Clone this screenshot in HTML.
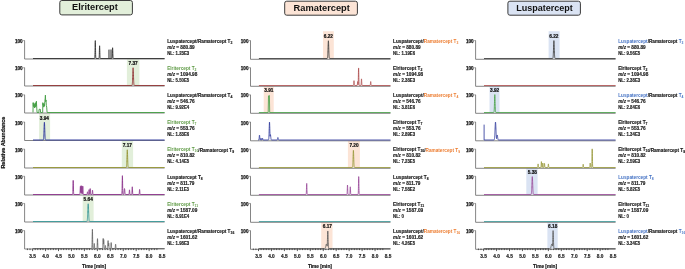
<!DOCTYPE html>
<html><head><meta charset="utf-8"><title>Chromatograms</title>
<style>
html,body{margin:0;padding:0;background:#fff;width:685px;height:269px;overflow:hidden;}
svg text{font-family:"Liberation Sans", sans-serif;} svg{will-change:transform;} .lb{stroke-width:0.15px;}
</style></head><body>
<svg width="685" height="269" viewBox="0 0 685 269" style="position:absolute;left:0;top:0"><rect x="59.8" y="0.5" width="72.6" height="14.4" rx="2" ry="2" fill="#e2efda" stroke="#3a3a3a" stroke-width="1"/><text x="72.1" y="9.8" font-size="8.6" font-weight="bold" fill="#111" textLength="45.7" lengthAdjust="spacingAndGlyphs">Elritercept</text><rect x="284.7" y="1.2" width="72.7" height="14.0" rx="2" ry="2" fill="#fce4d6" stroke="#3a3a3a" stroke-width="1"/><text x="293.6" y="10.6" font-size="8.6" font-weight="bold" fill="#111" textLength="56.3" lengthAdjust="spacingAndGlyphs">Ramatercept</text><rect x="507.9" y="1.2" width="72.5" height="14.0" rx="2" ry="2" fill="#dae3f3" stroke="#3a3a3a" stroke-width="1"/><text x="516.2" y="10.6" font-size="8.6" font-weight="bold" fill="#111" textLength="56.6" lengthAdjust="spacingAndGlyphs">Luspatercept</text><rect x="126.90" y="59.30" width="12.50" height="26.20" fill="#e2efda"/><text x="133.10" y="65.20" font-size="5" font-weight="bold" fill="#111" text-anchor="middle" textLength="9.2" lengthAdjust="spacingAndGlyphs" stroke="#111" stroke-width="0.2">7.37</text><rect x="39.10" y="113.30" width="11.00" height="26.70" fill="#e2efda"/><text x="44.40" y="119.50" font-size="5" font-weight="bold" fill="#111" text-anchor="middle" textLength="9.2" lengthAdjust="spacingAndGlyphs" stroke="#111" stroke-width="0.2">3.94</text><rect x="121.80" y="140.80" width="11.30" height="26.70" fill="#e2efda"/><text x="127.30" y="146.65" font-size="5" font-weight="bold" fill="#111" text-anchor="middle" textLength="9.2" lengthAdjust="spacingAndGlyphs" stroke="#111" stroke-width="0.2">7.17</text><rect x="82.70" y="195.30" width="10.90" height="26.20" fill="#e2efda"/><text x="88.20" y="200.95" font-size="5" font-weight="bold" fill="#111" text-anchor="middle" textLength="9.2" lengthAdjust="spacingAndGlyphs" stroke="#111" stroke-width="0.2">5.64</text><rect x="323.00" y="31.20" width="10.80" height="27.30" fill="#fce4d6"/><text x="328.40" y="38.05" font-size="5" font-weight="bold" fill="#111" text-anchor="middle" textLength="9.2" lengthAdjust="spacingAndGlyphs" stroke="#111" stroke-width="0.2">6.22</text><rect x="263.70" y="86.30" width="10.00" height="26.20" fill="#fce4d6"/><text x="268.80" y="92.35" font-size="5" font-weight="bold" fill="#111" text-anchor="middle" textLength="9.2" lengthAdjust="spacingAndGlyphs" stroke="#111" stroke-width="0.2">3.91</text><rect x="347.90" y="140.80" width="12.00" height="26.70" fill="#fce4d6"/><text x="354.00" y="146.65" font-size="5" font-weight="bold" fill="#111" text-anchor="middle" textLength="9.2" lengthAdjust="spacingAndGlyphs" stroke="#111" stroke-width="0.2">7.20</text><rect x="321.20" y="222.30" width="11.30" height="26.20" fill="#fce4d6"/><text x="327.40" y="228.10" font-size="5" font-weight="bold" fill="#111" text-anchor="middle" textLength="9.2" lengthAdjust="spacingAndGlyphs" stroke="#111" stroke-width="0.2">6.17</text><rect x="548.60" y="31.20" width="11.00" height="27.30" fill="#dae3f3"/><text x="553.90" y="38.05" font-size="5" font-weight="bold" fill="#111" text-anchor="middle" textLength="9.2" lengthAdjust="spacingAndGlyphs" stroke="#111" stroke-width="0.2">6.22</text><rect x="489.50" y="86.30" width="10.00" height="26.20" fill="#dae3f3"/><text x="494.60" y="92.35" font-size="5" font-weight="bold" fill="#111" text-anchor="middle" textLength="9.2" lengthAdjust="spacingAndGlyphs" stroke="#111" stroke-width="0.2">3.92</text><rect x="526.30" y="168.30" width="11.30" height="26.20" fill="#dae3f3"/><text x="532.30" y="173.80" font-size="5" font-weight="bold" fill="#111" text-anchor="middle" textLength="9.2" lengthAdjust="spacingAndGlyphs" stroke="#111" stroke-width="0.2">5.38</text><rect x="547.40" y="222.30" width="10.30" height="26.20" fill="#dae3f3"/><text x="552.70" y="228.10" font-size="5" font-weight="bold" fill="#111" text-anchor="middle" textLength="9.2" lengthAdjust="spacingAndGlyphs" stroke="#111" stroke-width="0.2">6.18</text><rect x="108.0" y="49.55" width="4.3" height="8.95" fill="#a6a6a6"/><path d="M108.6,58.50 V49.91 M110.1,58.50 V49.55 M111.3,58.50 V49.55" stroke="#707070" stroke-width="0.5"/><path d="M23.40,40.55 H24.60 V59.00 H164.60" fill="none" stroke="#666666" stroke-width="0.8"/><text x="22.60" y="43.05" font-size="5.1" font-weight="bold" fill="#111" text-anchor="end" textLength="7.7" lengthAdjust="spacingAndGlyphs" stroke="#111" stroke-width="0.25">100</text><path d="M33.00,58.50 L94.50,58.49 L94.55,58.48 L94.60,58.46 L94.65,58.41 L94.70,58.30 L94.75,58.09 L94.80,57.71 L94.85,57.08 L94.90,56.08 L94.95,54.63 L95.00,52.69 L95.05,50.30 L95.10,47.64 L95.15,44.99 L95.20,42.70 L95.25,41.15 L95.30,40.60 L95.35,41.15 L95.40,42.70 L95.45,44.99 L95.50,47.64 L95.55,50.30 L95.60,52.69 L95.65,54.63 L95.70,56.08 L95.75,57.08 L95.80,57.71 L95.85,58.09 L95.90,58.30 L95.95,58.41 L96.00,58.46 L96.05,58.48 L96.10,58.49 L98.80,58.50 L98.85,58.49 L98.90,58.47 L98.95,58.44 L99.00,58.36 L99.05,58.21 L99.10,57.94 L99.15,57.49 L99.20,56.78 L99.25,55.75 L99.30,54.37 L99.35,52.68 L99.40,50.79 L99.45,48.91 L99.50,47.28 L99.55,46.18 L99.60,45.79 L99.65,46.18 L99.70,47.28 L99.75,48.91 L99.80,50.79 L99.85,52.68 L99.90,54.37 L99.95,55.75 L100.00,56.78 L100.05,57.49 L100.10,57.94 L100.15,58.21 L100.20,58.36 L100.25,58.44 L100.30,58.47 L100.35,58.49 L100.40,58.50 L111.80,58.50 L111.85,58.49 L111.90,58.48 L111.95,58.45 L112.00,58.38 L112.05,58.26 L112.10,58.03 L112.15,57.65 L112.20,57.05 L112.25,56.18 L112.30,55.01 L112.35,53.58 L112.40,51.99 L112.45,50.39 L112.50,49.02 L112.55,48.09 L112.60,47.76 L112.65,48.09 L112.70,49.02 L112.75,50.39 L112.80,51.99 L112.85,53.58 L112.90,55.01 L112.95,56.18 L113.00,57.05 L113.05,57.65 L113.10,58.03 L113.15,58.26 L113.20,58.38 L113.25,58.45 L113.30,58.48 L113.35,58.49 L113.40,58.50 L164.60,58.50" fill="none" stroke="#383838" stroke-width="0.95" stroke-linejoin="round"/><path d="M23.40,67.70 H24.60 V86.00 H164.60" fill="none" stroke="#666666" stroke-width="0.8"/><text x="22.60" y="70.20" font-size="5.1" font-weight="bold" fill="#111" text-anchor="end" textLength="7.7" lengthAdjust="spacingAndGlyphs" stroke="#111" stroke-width="0.25">100</text><path d="M33.00,85.50 L131.75,85.49 L131.80,85.48 L131.85,85.47 L131.90,85.45 L131.95,85.42 L132.00,85.37 L132.05,85.30 L132.10,85.20 L132.15,85.05 L132.20,84.85 L132.25,84.57 L132.30,84.20 L132.35,83.72 L132.40,83.10 L132.45,82.34 L132.50,81.42 L132.55,80.34 L132.60,79.11 L132.65,77.75 L132.70,76.28 L132.75,74.75 L132.80,73.23 L132.85,71.77 L132.90,70.45 L132.95,69.33 L133.00,68.49 L133.05,67.96 L133.10,67.78 L133.15,67.96 L133.20,68.49 L133.25,69.33 L133.30,70.45 L133.35,71.77 L133.40,73.23 L133.45,74.75 L133.50,76.28 L133.55,77.75 L133.60,79.11 L133.65,80.34 L133.70,81.42 L133.75,82.34 L133.80,83.10 L133.85,83.72 L133.90,84.20 L133.95,84.57 L134.00,84.85 L134.05,85.05 L134.10,85.20 L134.15,85.30 L134.20,85.37 L134.25,85.42 L134.30,85.45 L134.35,85.47 L134.40,85.48 L134.45,85.49 L164.60,85.50" fill="none" stroke="#943a3a" stroke-width="0.95" stroke-linejoin="round"/><path d="M23.40,94.85 H24.60 V113.00 H164.60" fill="none" stroke="#666666" stroke-width="0.8"/><text x="22.60" y="97.35" font-size="5.1" font-weight="bold" fill="#111" text-anchor="end" textLength="7.7" lengthAdjust="spacingAndGlyphs" stroke="#111" stroke-width="0.25">100</text><path d="M33.00,112.50 L33.00,112.50 L33.10,102.66 L33.40,106.23 L33.70,102.83 L34.00,107.13 L34.30,104.44 L34.60,108.03 L35.00,103.55 L35.30,107.13 L35.70,102.66 L36.00,106.23 L36.40,101.22 L36.80,108.92 L37.10,112.50 L38.90,112.50 L39.00,109.46 L39.40,109.10 L39.80,109.81 L40.30,109.28 L40.60,112.50 L42.70,112.50 L42.80,102.66 L43.10,105.34 L43.40,103.55 L43.70,107.13 L44.00,104.44 L44.40,106.23 L44.80,101.76 L45.20,98.18 L45.40,95.14 L45.70,101.76 L46.00,99.97 L46.30,105.34 L46.70,107.13 L47.10,112.50 L164.60,112.50" fill="none" stroke="#48a048" stroke-width="0.95" stroke-linejoin="round"/><path d="M23.40,122.00 H24.60 V140.50 H164.60" fill="none" stroke="#666666" stroke-width="0.8"/><text x="22.60" y="124.50" font-size="5.1" font-weight="bold" fill="#111" text-anchor="end" textLength="7.7" lengthAdjust="spacingAndGlyphs" stroke="#111" stroke-width="0.25">100</text><path d="M33.00,140.00 L43.05,139.99 L43.10,139.98 L43.15,139.97 L43.20,139.95 L43.25,139.92 L43.30,139.87 L43.35,139.80 L43.40,139.70 L43.45,139.55 L43.50,139.35 L43.55,139.07 L43.60,138.70 L43.65,138.22 L43.70,137.60 L43.75,136.84 L43.80,135.92 L43.85,134.84 L43.90,133.61 L43.95,132.25 L44.00,130.78 L44.05,129.25 L44.10,127.73 L44.15,126.27 L44.20,124.95 L44.25,123.83 L44.30,122.99 L44.35,122.46 L44.40,122.28 L44.45,122.46 L44.50,122.99 L44.55,123.83 L44.60,124.95 L44.65,126.27 L44.70,127.73 L44.75,129.25 L44.80,130.78 L44.85,132.25 L44.90,133.61 L44.95,134.84 L45.00,135.92 L45.05,136.84 L45.10,137.60 L45.15,138.22 L45.20,138.70 L45.25,139.07 L45.30,139.35 L45.35,139.55 L45.40,139.70 L45.45,139.80 L45.50,139.87 L45.55,139.92 L45.60,139.95 L45.65,139.97 L45.70,139.98 L45.75,139.99 L164.60,140.00" fill="none" stroke="#2f3a9c" stroke-width="0.95" stroke-linejoin="round"/><path d="M23.40,149.15 H24.60 V168.00 H164.60" fill="none" stroke="#666666" stroke-width="0.8"/><text x="22.60" y="151.65" font-size="5.1" font-weight="bold" fill="#111" text-anchor="end" textLength="7.7" lengthAdjust="spacingAndGlyphs" stroke="#111" stroke-width="0.25">100</text><path d="M33.00,167.50 L126.05,167.49 L126.10,167.48 L126.15,167.47 L126.20,167.45 L126.25,167.42 L126.30,167.37 L126.35,167.28 L126.40,167.16 L126.45,166.98 L126.50,166.72 L126.55,166.36 L126.60,165.88 L126.65,165.25 L126.70,164.44 L126.75,163.45 L126.80,162.27 L126.85,160.91 L126.90,159.39 L126.95,157.76 L127.00,156.08 L127.05,154.44 L127.10,152.92 L127.15,151.62 L127.20,150.62 L127.25,149.99 L127.30,149.78 L127.35,149.99 L127.40,150.62 L127.45,151.62 L127.50,152.92 L127.55,154.44 L127.60,156.08 L127.65,157.76 L127.70,159.39 L127.75,160.91 L127.80,162.27 L127.85,163.45 L127.90,164.44 L127.95,165.25 L128.00,165.88 L128.05,166.36 L128.10,166.72 L128.15,166.98 L128.20,167.16 L128.25,167.28 L128.30,167.37 L128.35,167.42 L128.40,167.45 L128.45,167.47 L128.50,167.48 L128.55,167.49 L164.60,167.50" fill="none" stroke="#98983a" stroke-width="0.95" stroke-linejoin="round"/><path d="M23.40,176.30 H24.60 V195.00 H164.60" fill="none" stroke="#666666" stroke-width="0.8"/><text x="22.60" y="178.80" font-size="5.1" font-weight="bold" fill="#111" text-anchor="end" textLength="7.7" lengthAdjust="spacingAndGlyphs" stroke="#111" stroke-width="0.25">100</text><path d="M33.00,194.50 L72.40,194.50 L72.45,194.49 L72.50,194.47 L72.55,194.43 L72.60,194.34 L72.65,194.18 L72.70,193.88 L72.75,193.37 L72.80,192.59 L72.85,191.44 L72.90,189.91 L72.95,188.03 L73.00,185.92 L73.05,183.83 L73.10,182.02 L73.15,180.79 L73.20,180.36 L73.25,180.79 L73.30,182.02 L73.35,183.83 L73.40,185.92 L73.45,188.03 L73.50,189.91 L73.55,191.44 L73.60,192.59 L73.65,193.37 L73.70,193.88 L73.75,194.18 L73.80,194.34 L73.85,194.43 L73.90,194.47 L73.95,194.49 L74.00,194.50 L79.60,194.50 L79.65,194.49 L79.70,194.48 L79.75,194.46 L79.80,194.41 L79.85,194.32 L79.90,194.15 L79.95,193.86 L80.00,193.41 L80.05,192.76 L80.10,191.88 L80.15,190.81 L80.20,189.61 L80.25,188.42 L80.30,187.39 L80.35,186.69 L80.40,186.44 L80.45,186.69 L80.50,187.39 L80.55,188.42 L80.60,189.61 L80.65,190.81 L80.70,191.88 L80.75,192.60 L80.80,191.65 L80.85,190.48 L80.90,189.18 L80.95,187.88 L81.00,186.76 L81.05,186.00 L81.10,185.73 L81.15,186.00 L81.20,186.76 L81.25,187.88 L81.30,189.18 L81.35,190.48 L81.40,191.65 L81.45,192.60 L81.50,193.31 L81.55,192.64 L81.60,191.71 L81.65,190.57 L81.70,189.29 L81.75,188.01 L81.80,186.92 L81.85,186.17 L81.90,185.91 L81.95,186.17 L82.00,186.92 L82.05,188.01 L82.10,189.29 L82.15,190.57 L82.20,191.71 L82.25,192.64 L82.30,193.34 L82.35,193.82 L82.40,193.39 L82.45,192.72 L82.50,191.83 L82.55,190.73 L82.60,189.51 L82.65,188.28 L82.70,187.23 L82.75,186.52 L82.80,186.27 L82.85,186.52 L82.90,187.23 L82.95,188.28 L83.00,189.51 L83.05,190.73 L83.10,191.83 L83.15,192.72 L83.20,193.39 L83.25,193.84 L83.30,194.14 L83.35,194.31 L83.40,194.41 L83.45,194.46 L83.50,194.48 L83.55,194.49 L83.60,194.50 L86.70,194.50 L86.75,194.50 L86.80,194.49 L86.85,194.49 L86.90,194.47 L86.95,194.44 L87.00,194.38 L87.05,194.29 L87.10,194.14 L87.15,193.92 L87.20,193.63 L87.25,193.27 L87.30,192.87 L87.35,192.47 L87.40,192.13 L87.45,191.90 L87.50,191.81 L87.55,191.90 L87.60,192.13 L87.65,192.47 L87.70,192.87 L87.75,193.27 L87.80,193.63 L87.85,193.92 L87.90,194.14 L87.95,194.29 L88.00,194.38 L88.05,194.44 L88.10,194.47 L88.15,194.49 L88.20,194.49 L88.25,194.50 L88.30,194.50 L88.35,194.50 L88.40,194.49 L88.45,194.48 L88.50,194.45 L88.55,194.39 L88.60,194.29 L88.65,194.12 L88.70,193.85 L88.75,193.45 L88.80,192.93 L88.85,192.29 L88.90,191.57 L88.95,190.85 L89.00,190.23 L89.05,189.82 L89.10,189.67 L89.15,189.82 L89.20,190.23 L89.25,190.85 L89.30,191.57 L89.35,192.29 L89.40,192.93 L89.45,193.45 L89.50,193.85 L89.55,194.12 L89.60,194.29 L89.65,194.37 L89.70,194.24 L89.75,194.03 L89.80,193.70 L89.85,193.22 L89.90,192.58 L89.95,191.80 L90.00,190.92 L90.05,190.04 L90.10,189.29 L90.15,188.77 L90.20,188.59 L90.25,188.77 L90.30,189.29 L90.35,190.04 L90.40,190.92 L90.45,191.80 L90.50,192.58 L90.55,193.22 L90.60,193.70 L90.65,194.03 L90.70,194.24 L90.75,194.37 L90.80,194.43 L90.85,194.47 L90.90,194.49 L90.95,194.49 L91.00,194.50 L91.70,194.50 L91.75,194.50 L91.80,194.49 L91.85,194.48 L91.90,194.45 L91.95,194.40 L92.00,194.31 L92.05,194.16 L92.10,193.92 L92.15,193.57 L92.20,193.11 L92.25,192.53 L92.30,191.89 L92.35,191.26 L92.40,190.71 L92.45,190.34 L92.50,190.20 L92.55,190.34 L92.60,190.71 L92.65,191.26 L92.70,191.89 L92.75,192.53 L92.80,193.11 L92.85,193.57 L92.90,193.92 L92.95,194.16 L93.00,194.31 L93.05,194.40 L93.10,194.45 L93.15,194.48 L93.20,194.49 L93.25,194.50 L93.30,194.50 L121.60,194.49 L121.65,194.48 L121.70,194.46 L121.75,194.40 L121.80,194.29 L121.85,194.07 L121.90,193.67 L121.95,193.00 L122.00,191.96 L122.05,190.44 L122.10,188.40 L122.15,185.90 L122.20,183.10 L122.25,180.31 L122.30,177.91 L122.35,176.28 L122.40,175.70 L122.45,176.28 L122.50,177.91 L122.55,180.31 L122.60,183.10 L122.65,185.90 L122.70,188.40 L122.75,190.44 L122.80,191.96 L122.85,193.00 L122.90,193.67 L122.95,194.07 L123.00,194.29 L123.05,194.40 L123.10,194.46 L123.15,194.48 L123.20,194.49 L123.35,194.50 L123.40,194.49 L123.45,194.49 L123.50,194.48 L123.55,194.46 L123.60,194.43 L123.65,194.39 L123.70,194.33 L123.75,194.24 L123.80,194.11 L123.85,193.94 L123.90,193.70 L123.95,193.40 L124.00,193.03 L124.05,192.58 L124.10,192.07 L124.15,191.51 L124.20,190.92 L124.25,190.33 L124.30,189.77 L124.35,189.29 L124.40,188.91 L124.45,188.67 L124.50,188.59 L124.55,188.67 L124.60,188.91 L124.65,189.29 L124.70,189.77 L124.75,190.33 L124.80,190.92 L124.85,191.51 L124.90,192.07 L124.95,192.58 L125.00,193.03 L125.05,193.40 L125.10,193.70 L125.15,193.94 L125.20,194.11 L125.25,194.24 L125.30,194.33 L125.35,194.39 L125.40,194.43 L125.45,194.46 L125.50,194.48 L125.55,194.49 L125.60,194.49 L125.65,194.50 L128.70,194.50 L128.75,194.50 L128.80,194.49 L128.85,194.48 L128.90,194.45 L128.95,194.39 L129.00,194.30 L129.05,194.13 L129.10,193.87 L129.15,193.49 L129.20,192.99 L129.25,192.37 L129.30,191.68 L129.35,190.99 L129.40,190.39 L129.45,189.99 L129.50,189.85 L129.55,189.99 L129.60,190.39 L129.65,190.99 L129.70,191.68 L129.75,192.37 L129.80,192.99 L129.85,193.49 L129.90,193.87 L129.95,194.13 L130.00,194.30 L130.05,194.39 L130.10,194.45 L130.15,194.48 L130.20,194.49 L130.25,194.50 L130.30,194.50 L131.50,194.50 L131.55,194.49 L131.60,194.48 L131.65,194.46 L131.70,194.41 L131.75,194.32 L131.80,194.16 L131.85,193.89 L131.90,193.46 L131.95,192.84 L132.00,192.00 L132.05,190.98 L132.10,189.83 L132.15,188.69 L132.20,187.71 L132.25,187.04 L132.30,186.80 L132.35,187.04 L132.40,187.71 L132.45,188.69 L132.50,189.83 L132.55,190.98 L132.60,192.00 L132.65,192.84 L132.70,193.46 L132.75,193.89 L132.80,194.16 L132.85,194.32 L132.90,194.41 L132.95,194.46 L133.00,194.48 L133.05,194.49 L133.10,194.50 L138.80,194.50 L138.85,194.50 L138.90,194.49 L138.95,194.47 L139.00,194.44 L139.05,194.39 L139.10,194.28 L139.15,194.10 L139.20,193.82 L139.25,193.42 L139.30,192.87 L139.35,192.21 L139.40,191.46 L139.45,190.72 L139.50,190.08 L139.55,189.64 L139.60,189.49 L139.65,189.64 L139.70,190.08 L139.75,190.72 L139.80,191.46 L139.85,192.21 L139.90,192.87 L139.95,193.42 L140.00,193.82 L140.05,194.10 L140.10,194.28 L140.15,194.39 L140.20,194.44 L140.25,194.47 L140.30,194.49 L140.35,194.50 L140.40,194.50 L164.60,194.50" fill="none" stroke="#8f3a8f" stroke-width="0.95" stroke-linejoin="round"/><path d="M23.40,203.45 H24.60 V222.00 H164.60" fill="none" stroke="#666666" stroke-width="0.8"/><text x="22.60" y="205.95" font-size="5.1" font-weight="bold" fill="#111" text-anchor="end" textLength="7.7" lengthAdjust="spacingAndGlyphs" stroke="#111" stroke-width="0.25">100</text><path d="M33.00,221.50 L86.60,221.49 L86.65,221.49 L86.70,221.48 L86.75,221.48 L86.80,221.46 L86.85,221.44 L86.90,221.41 L86.95,221.37 L87.00,221.30 L87.05,221.22 L87.10,221.10 L87.15,220.93 L87.20,220.72 L87.25,220.44 L87.30,220.09 L87.35,219.65 L87.40,219.10 L87.45,218.44 L87.50,217.67 L87.55,216.77 L87.60,215.75 L87.65,214.61 L87.70,213.39 L87.75,212.09 L87.80,210.75 L87.85,209.42 L87.90,208.12 L87.95,206.92 L88.00,205.86 L88.05,204.98 L88.10,204.32 L88.15,203.92 L88.20,203.78 L88.25,203.92 L88.30,204.32 L88.35,204.98 L88.40,205.86 L88.45,206.92 L88.50,208.12 L88.55,209.42 L88.60,210.75 L88.65,212.09 L88.70,213.39 L88.75,214.61 L88.80,215.75 L88.85,216.77 L88.90,217.67 L88.95,218.44 L89.00,219.10 L89.05,219.65 L89.10,220.09 L89.15,220.44 L89.20,220.72 L89.25,220.93 L89.30,221.10 L89.35,221.22 L89.40,221.30 L89.45,221.37 L89.50,221.41 L89.55,221.44 L89.60,221.46 L89.65,221.48 L89.70,221.48 L89.75,221.49 L89.80,221.49 L164.60,221.50" fill="none" stroke="#3e9a9a" stroke-width="0.95" stroke-linejoin="round"/><path d="M23.40,230.60 H24.60 V249.00 H164.60" fill="none" stroke="#666666" stroke-width="0.8"/><text x="22.60" y="233.10" font-size="5.1" font-weight="bold" fill="#111" text-anchor="end" textLength="7.7" lengthAdjust="spacingAndGlyphs" stroke="#111" stroke-width="0.25">100</text><path d="M33.00,248.50 L91.60,248.49 L91.65,248.48 L91.70,248.46 L91.75,248.40 L91.80,248.29 L91.85,248.06 L91.90,247.66 L91.95,246.98 L92.00,245.91 L92.05,244.36 L92.10,242.28 L92.15,239.73 L92.20,236.88 L92.25,234.04 L92.30,231.60 L92.35,229.94 L92.40,229.35 L92.45,229.94 L92.50,231.60 L92.55,234.04 L92.60,236.88 L92.65,239.73 L92.70,242.28 L92.75,244.36 L92.80,245.91 L92.85,246.98 L92.90,247.66 L92.95,248.06 L93.00,248.29 L93.05,248.40 L93.10,248.46 L93.15,248.48 L93.20,248.49 L93.50,248.50 L93.55,248.50 L93.60,248.49 L93.65,248.47 L93.70,248.44 L93.75,248.39 L93.80,248.28 L93.85,248.10 L93.90,247.82 L93.95,247.42 L94.00,246.87 L94.05,246.21 L94.10,245.46 L94.15,244.72 L94.20,244.08 L94.25,243.64 L94.30,243.49 L94.35,243.64 L94.40,244.08 L94.45,244.72 L94.50,245.46 L94.55,246.21 L94.60,246.87 L94.65,247.42 L94.70,247.82 L94.75,248.10 L94.80,248.28 L94.85,248.39 L94.90,248.44 L94.95,248.47 L95.00,248.49 L95.05,248.50 L95.10,248.50 L96.70,248.50 L96.75,248.49 L96.80,248.48 L96.85,248.45 L96.90,248.39 L96.95,248.28 L97.00,248.07 L97.05,247.72 L97.10,247.17 L97.15,246.37 L97.20,245.30 L97.25,243.99 L97.30,242.53 L97.35,241.07 L97.40,239.81 L97.45,238.96 L97.50,238.66 L97.55,238.96 L97.60,239.81 L97.65,241.07 L97.70,242.53 L97.75,243.99 L97.80,245.30 L97.85,246.37 L97.90,247.17 L97.95,247.72 L98.00,248.07 L98.05,248.28 L98.10,248.39 L98.15,248.45 L98.20,248.48 L98.25,248.49 L98.30,248.50 L102.40,248.50 L102.45,248.49 L102.50,248.48 L102.55,248.45 L102.60,248.39 L102.65,248.27 L102.70,248.06 L102.75,247.70 L102.80,247.14 L102.85,246.33 L102.90,245.25 L102.95,243.91 L103.00,242.42 L103.05,240.93 L103.10,239.65 L103.15,238.78 L103.20,238.48 L103.25,238.78 L103.30,239.65 L103.35,240.93 L103.40,242.42 L103.45,243.91 L103.50,243.07 L103.55,241.74 L103.60,240.60 L103.65,239.83 L103.70,239.55 L103.75,239.83 L103.80,240.60 L103.85,241.74 L103.90,243.07 L103.95,244.40 L104.00,245.59 L104.05,246.56 L104.10,247.29 L104.15,247.79 L104.20,248.11 L104.25,248.30 L104.30,248.40 L104.35,248.45 L104.40,248.48 L104.45,248.49 L104.50,248.50 L104.60,248.50 L104.65,248.50 L104.70,248.49 L104.75,248.48 L104.80,248.47 L104.85,248.43 L104.90,248.37 L104.95,248.26 L105.00,248.09 L105.05,247.84 L105.10,247.51 L105.15,247.11 L105.20,246.65 L105.25,246.20 L105.30,245.81 L105.35,245.55 L105.40,245.46 L105.45,245.55 L105.50,245.81 L105.55,246.20 L105.60,246.65 L105.65,247.11 L105.70,247.51 L105.75,247.84 L105.80,248.09 L105.85,248.26 L105.90,248.37 L105.95,248.43 L106.00,248.47 L106.05,248.48 L106.10,248.49 L106.15,248.50 L106.20,248.50 L107.30,248.50 L107.35,248.49 L107.40,248.48 L107.45,248.46 L107.50,248.41 L107.55,248.32 L107.60,248.15 L107.65,247.87 L107.70,247.43 L107.75,246.80 L107.80,245.94 L107.85,244.89 L107.90,243.72 L107.95,242.55 L108.00,241.55 L108.05,240.87 L108.10,240.62 L108.15,240.87 L108.20,241.55 L108.25,242.55 L108.30,243.72 L108.35,244.89 L108.40,245.94 L108.45,246.04 L108.50,245.24 L108.55,244.45 L108.60,243.76 L108.65,243.30 L108.70,243.13 L108.75,243.30 L108.80,243.76 L108.85,244.45 L108.90,245.24 L108.95,246.04 L109.00,246.76 L109.05,247.34 L109.10,247.77 L109.15,248.07 L109.20,248.26 L109.25,248.38 L109.30,248.44 L109.35,248.47 L109.40,248.49 L109.45,248.50 L109.50,248.50 L110.40,248.50 L110.45,248.49 L110.50,248.49 L110.55,248.47 L110.60,248.43 L110.65,248.37 L110.70,248.24 L110.75,248.03 L110.80,247.70 L110.85,247.22 L110.90,246.58 L110.95,245.80 L111.00,244.92 L111.05,244.04 L111.10,243.29 L111.15,242.77 L111.20,242.59 L111.25,242.77 L111.30,243.29 L111.35,244.04 L111.40,244.92 L111.45,245.80 L111.50,246.58 L111.55,247.22 L111.60,247.70 L111.65,248.03 L111.70,248.24 L111.75,248.37 L111.80,248.43 L111.85,248.47 L111.90,248.49 L111.95,248.49 L112.00,248.50 L114.80,248.50 L114.85,248.50 L114.90,248.49 L114.95,248.48 L115.00,248.45 L115.05,248.40 L115.10,248.31 L115.15,248.16 L115.20,247.92 L115.25,247.57 L115.30,247.11 L115.35,246.53 L115.40,245.89 L115.45,245.26 L115.50,244.71 L115.55,244.34 L115.60,244.20 L115.65,244.34 L115.70,244.71 L115.75,245.26 L115.80,245.89 L115.85,246.53 L115.90,247.11 L115.95,247.57 L116.00,247.92 L116.05,248.16 L116.10,248.31 L116.15,248.40 L116.20,248.45 L116.25,248.48 L116.30,248.49 L116.35,248.50 L116.40,248.50 L164.60,248.50" fill="none" stroke="#6a6a6a" stroke-width="0.95" stroke-linejoin="round"/><path d="M27.42,248.50 v1.6 M30.01,248.50 v1.6 M32.60,248.50 v2.6 M35.19,248.50 v1.6 M37.78,248.50 v1.6 M40.37,248.50 v1.6 M42.96,248.50 v1.6 M45.55,248.50 v2.6 M48.14,248.50 v1.6 M50.73,248.50 v1.6 M53.32,248.50 v1.6 M55.91,248.50 v1.6 M58.50,248.50 v2.6 M61.09,248.50 v1.6 M63.68,248.50 v1.6 M66.27,248.50 v1.6 M68.86,248.50 v1.6 M71.45,248.50 v2.6 M74.04,248.50 v1.6 M76.63,248.50 v1.6 M79.22,248.50 v1.6 M81.81,248.50 v1.6 M84.40,248.50 v2.6 M86.99,248.50 v1.6 M89.58,248.50 v1.6 M92.17,248.50 v1.6 M94.76,248.50 v1.6 M97.35,248.50 v2.6 M99.94,248.50 v1.6 M102.53,248.50 v1.6 M105.12,248.50 v1.6 M107.71,248.50 v1.6 M110.30,248.50 v2.6 M112.89,248.50 v1.6 M115.48,248.50 v1.6 M118.07,248.50 v1.6 M120.66,248.50 v1.6 M123.25,248.50 v2.6 M125.84,248.50 v1.6 M128.43,248.50 v1.6 M131.02,248.50 v1.6 M133.61,248.50 v1.6 M136.20,248.50 v2.6 M138.79,248.50 v1.6 M141.38,248.50 v1.6 M143.97,248.50 v1.6 M146.56,248.50 v1.6 M149.15,248.50 v2.6 M151.74,248.50 v1.6 M154.33,248.50 v1.6 M156.92,248.50 v1.6" stroke="#333" stroke-width="0.8"/><text x="32.60" y="258.10" font-size="5.2" font-weight="bold" fill="#222" text-anchor="middle" textLength="6.6" lengthAdjust="spacingAndGlyphs" stroke="#222" stroke-width="0.2">3.5</text><text x="45.55" y="258.10" font-size="5.2" font-weight="bold" fill="#222" text-anchor="middle" textLength="6.6" lengthAdjust="spacingAndGlyphs" stroke="#222" stroke-width="0.2">4.0</text><text x="58.50" y="258.10" font-size="5.2" font-weight="bold" fill="#222" text-anchor="middle" textLength="6.6" lengthAdjust="spacingAndGlyphs" stroke="#222" stroke-width="0.2">4.5</text><text x="71.45" y="258.10" font-size="5.2" font-weight="bold" fill="#222" text-anchor="middle" textLength="6.6" lengthAdjust="spacingAndGlyphs" stroke="#222" stroke-width="0.2">5.0</text><text x="84.40" y="258.10" font-size="5.2" font-weight="bold" fill="#222" text-anchor="middle" textLength="6.6" lengthAdjust="spacingAndGlyphs" stroke="#222" stroke-width="0.2">5.5</text><text x="97.35" y="258.10" font-size="5.2" font-weight="bold" fill="#222" text-anchor="middle" textLength="6.6" lengthAdjust="spacingAndGlyphs" stroke="#222" stroke-width="0.2">6.0</text><text x="110.30" y="258.10" font-size="5.2" font-weight="bold" fill="#222" text-anchor="middle" textLength="6.6" lengthAdjust="spacingAndGlyphs" stroke="#222" stroke-width="0.2">6.5</text><text x="123.25" y="258.10" font-size="5.2" font-weight="bold" fill="#222" text-anchor="middle" textLength="6.6" lengthAdjust="spacingAndGlyphs" stroke="#222" stroke-width="0.2">7.0</text><text x="136.20" y="258.10" font-size="5.2" font-weight="bold" fill="#222" text-anchor="middle" textLength="6.6" lengthAdjust="spacingAndGlyphs" stroke="#222" stroke-width="0.2">7.5</text><text x="149.15" y="258.10" font-size="5.2" font-weight="bold" fill="#222" text-anchor="middle" textLength="6.6" lengthAdjust="spacingAndGlyphs" stroke="#222" stroke-width="0.2">8.0</text><text x="162.10" y="258.10" font-size="5.2" font-weight="bold" fill="#222" text-anchor="middle" textLength="6.6" lengthAdjust="spacingAndGlyphs" stroke="#222" stroke-width="0.2">8.5</text><text x="82.00" y="267.8" font-size="5.4" font-weight="bold" fill="#111" textLength="24" lengthAdjust="spacingAndGlyphs" stroke="#111" stroke-width="0.2">Time [min]</text><text class="lb" x="167.20" y="42.80" font-size="4.7" font-weight="bold"><tspan fill="#1a1a1a" stroke="#1a1a1a">Luspatercept/Ramatercept T</tspan><tspan fill="#1a1a1a" stroke="#1a1a1a" font-size="3.4" dy="1.0">3</tspan><tspan dy="-1.0"></tspan></text><text class="lb" x="167.20" y="48.85" font-size="4.7" font-weight="bold" fill="#1a1a1a" stroke="#1a1a1a"><tspan font-style="italic">m/z</tspan> = 880.89</text><text class="lb" x="167.20" y="54.90" font-size="4.7" font-weight="bold" fill="#1a1a1a" stroke="#1a1a1a" transform="translate(167.20,0) scale(0.915,1) translate(-167.20,0)">NL: 1.23E3</text><text class="lb" x="167.20" y="69.95" font-size="4.7" font-weight="bold"><tspan fill="#5e9a44" stroke="none">Elritercept T</tspan><tspan fill="#5e9a44" stroke="none" font-size="3.4" dy="1.0">2</tspan><tspan dy="-1.0"></tspan></text><text class="lb" x="167.20" y="76.00" font-size="4.7" font-weight="bold" fill="#1a1a1a" stroke="#1a1a1a"><tspan font-style="italic">m/z</tspan> = 1094.98</text><text class="lb" x="167.20" y="82.05" font-size="4.7" font-weight="bold" fill="#1a1a1a" stroke="#1a1a1a" transform="translate(167.20,0) scale(0.915,1) translate(-167.20,0)">NL: 5.50E5</text><text class="lb" x="167.20" y="97.10" font-size="4.7" font-weight="bold"><tspan fill="#1a1a1a" stroke="#1a1a1a">Luspatercept/Ramatercept T</tspan><tspan fill="#1a1a1a" stroke="#1a1a1a" font-size="3.4" dy="1.0">4</tspan><tspan dy="-1.0"></tspan></text><text class="lb" x="167.20" y="103.15" font-size="4.7" font-weight="bold" fill="#1a1a1a" stroke="#1a1a1a"><tspan font-style="italic">m/z</tspan> = 546.76</text><text class="lb" x="167.20" y="109.20" font-size="4.7" font-weight="bold" fill="#1a1a1a" stroke="#1a1a1a" transform="translate(167.20,0) scale(0.915,1) translate(-167.20,0)">NL: 9.92E4</text><text class="lb" x="167.20" y="124.25" font-size="4.7" font-weight="bold"><tspan fill="#5e9a44" stroke="none">Elritercept T</tspan><tspan fill="#5e9a44" stroke="none" font-size="3.4" dy="1.0">7</tspan><tspan dy="-1.0"></tspan></text><text class="lb" x="167.20" y="130.30" font-size="4.7" font-weight="bold" fill="#1a1a1a" stroke="#1a1a1a"><tspan font-style="italic">m/z</tspan> = 553.76</text><text class="lb" x="167.20" y="136.35" font-size="4.7" font-weight="bold" fill="#1a1a1a" stroke="#1a1a1a" transform="translate(167.20,0) scale(0.915,1) translate(-167.20,0)">NL: 1.83E6</text><text class="lb" x="167.20" y="151.40" font-size="4.7" font-weight="bold"><tspan fill="#5e9a44" stroke="none">Elritercept T</tspan><tspan fill="#5e9a44" stroke="none" font-size="3.4" dy="1.0">10</tspan><tspan dy="-1.0"></tspan><tspan fill="#1a1a1a" stroke="#1a1a1a">/Ramatercept T</tspan><tspan fill="#1a1a1a" stroke="#1a1a1a" font-size="3.4" dy="1.0">9</tspan><tspan dy="-1.0"></tspan></text><text class="lb" x="167.20" y="157.45" font-size="4.7" font-weight="bold" fill="#1a1a1a" stroke="#1a1a1a"><tspan font-style="italic">m/z</tspan> = 810.82</text><text class="lb" x="167.20" y="163.50" font-size="4.7" font-weight="bold" fill="#1a1a1a" stroke="#1a1a1a" transform="translate(167.20,0) scale(0.915,1) translate(-167.20,0)">NL: 4.14E5</text><text class="lb" x="167.20" y="178.55" font-size="4.7" font-weight="bold"><tspan fill="#1a1a1a" stroke="#1a1a1a">Luspatercept T</tspan><tspan fill="#1a1a1a" stroke="#1a1a1a" font-size="3.4" dy="1.0">8</tspan><tspan dy="-1.0"></tspan></text><text class="lb" x="167.20" y="184.60" font-size="4.7" font-weight="bold" fill="#1a1a1a" stroke="#1a1a1a"><tspan font-style="italic">m/z</tspan> = 811.79</text><text class="lb" x="167.20" y="190.65" font-size="4.7" font-weight="bold" fill="#1a1a1a" stroke="#1a1a1a" transform="translate(167.20,0) scale(0.915,1) translate(-167.20,0)">NL: 2.11E3</text><text class="lb" x="167.20" y="205.70" font-size="4.7" font-weight="bold"><tspan fill="#5e9a44" stroke="none">Elritercept T</tspan><tspan fill="#5e9a44" stroke="none" font-size="3.4" dy="1.0">11</tspan><tspan dy="-1.0"></tspan></text><text class="lb" x="167.20" y="211.75" font-size="4.7" font-weight="bold" fill="#1a1a1a" stroke="#1a1a1a"><tspan font-style="italic">m/z</tspan> = 1587.09</text><text class="lb" x="167.20" y="217.80" font-size="4.7" font-weight="bold" fill="#1a1a1a" stroke="#1a1a1a" transform="translate(167.20,0) scale(0.915,1) translate(-167.20,0)">NL: 8.91E4</text><text class="lb" x="167.20" y="232.85" font-size="4.7" font-weight="bold"><tspan fill="#1a1a1a" stroke="#1a1a1a">Luspatercept/Ramatercept T</tspan><tspan fill="#1a1a1a" stroke="#1a1a1a" font-size="3.4" dy="1.0">16</tspan><tspan dy="-1.0"></tspan></text><text class="lb" x="167.20" y="238.90" font-size="4.7" font-weight="bold" fill="#1a1a1a" stroke="#1a1a1a"><tspan font-style="italic">m/z</tspan> = 1601.62</text><text class="lb" x="167.20" y="244.95" font-size="4.7" font-weight="bold" fill="#1a1a1a" stroke="#1a1a1a" transform="translate(167.20,0) scale(0.915,1) translate(-167.20,0)">NL: 1.98E3</text><path d="M249.30,40.55 H250.50 V59.30 H390.50" fill="none" stroke="#666666" stroke-width="0.8"/><text x="248.50" y="43.05" font-size="5.1" font-weight="bold" fill="#111" text-anchor="end" textLength="7.7" lengthAdjust="spacingAndGlyphs" stroke="#111" stroke-width="0.25">100</text><path d="M258.90,58.50 L327.05,58.49 L327.10,58.48 L327.15,58.47 L327.20,58.45 L327.25,58.42 L327.30,58.37 L327.35,58.30 L327.40,58.20 L327.45,58.05 L327.50,57.85 L327.55,57.57 L327.60,57.20 L327.65,56.72 L327.70,56.10 L327.75,55.34 L327.80,54.42 L327.85,53.34 L327.90,52.11 L327.95,50.75 L328.00,49.28 L328.05,47.75 L328.10,46.23 L328.15,44.77 L328.20,43.45 L328.25,42.33 L328.30,41.49 L328.35,40.96 L328.40,40.78 L328.45,40.96 L328.50,41.49 L328.55,42.33 L328.60,43.45 L328.65,44.77 L328.70,46.23 L328.75,47.75 L328.80,49.28 L328.85,50.75 L328.90,52.11 L328.95,53.34 L329.00,54.42 L329.05,55.34 L329.10,56.10 L329.15,56.72 L329.20,57.20 L329.25,57.57 L329.30,57.85 L329.35,58.05 L329.40,58.20 L329.45,58.30 L329.50,58.37 L329.55,58.42 L329.60,58.45 L329.65,58.47 L329.70,58.48 L329.75,58.49 L390.50,58.50" fill="none" stroke="#3a3a3a" stroke-width="0.85" stroke-linejoin="round"/><path d="M249.30,67.70 H250.50 V86.30 H390.50" fill="none" stroke="#666666" stroke-width="0.8"/><text x="248.50" y="70.20" font-size="5.1" font-weight="bold" fill="#111" text-anchor="end" textLength="7.7" lengthAdjust="spacingAndGlyphs" stroke="#111" stroke-width="0.25">100</text><path d="M258.90,85.50 L353.20,85.50 L353.25,85.50 L353.30,85.49 L353.35,85.48 L353.40,85.45 L353.45,85.39 L353.50,85.29 L353.55,85.12 L353.60,84.85 L353.65,84.45 L353.70,83.93 L353.75,83.29 L353.80,82.57 L353.85,81.85 L353.90,81.23 L353.95,80.82 L354.00,80.67 L354.05,80.82 L354.10,81.23 L354.15,81.85 L354.20,82.57 L354.25,83.29 L354.30,83.93 L354.35,84.45 L354.40,84.85 L354.45,85.12 L354.50,85.29 L354.55,85.39 L354.60,85.45 L354.65,85.48 L354.70,85.49 L354.75,85.50 L354.80,85.50 L356.90,85.50 L356.95,85.50 L357.00,85.49 L357.05,85.48 L357.10,85.46 L357.15,85.41 L357.20,85.33 L357.25,85.19 L357.30,84.97 L357.35,84.65 L357.40,84.22 L357.45,83.70 L357.50,83.11 L357.55,82.53 L357.60,82.02 L357.65,81.68 L357.70,81.56 L357.75,81.68 L357.80,82.02 L357.85,82.53 L357.90,83.11 L357.95,83.70 L358.00,84.22 L358.05,84.65 L358.10,84.73 L358.15,84.10 L358.20,83.13 L358.25,81.71 L358.30,79.80 L358.35,77.47 L358.40,74.86 L358.45,72.26 L358.50,70.02 L358.55,68.50 L358.60,67.96 L358.65,68.50 L358.70,70.02 L358.75,72.26 L358.80,74.86 L358.85,77.47 L358.90,79.80 L358.95,81.71 L359.00,83.13 L359.05,84.10 L359.10,84.73 L359.15,85.10 L359.20,85.31 L359.25,85.41 L359.30,85.46 L359.35,85.48 L359.40,85.49 L360.70,85.50 L360.75,85.49 L360.80,85.49 L360.85,85.47 L360.90,85.43 L360.95,85.35 L361.00,85.21 L361.05,84.97 L361.10,84.60 L361.15,84.07 L361.20,83.35 L361.25,82.47 L361.30,81.48 L361.35,80.50 L361.40,79.66 L361.45,79.08 L361.50,78.88 L361.55,79.08 L361.60,79.66 L361.65,80.50 L361.70,81.48 L361.75,82.47 L361.80,83.35 L361.85,84.07 L361.90,84.60 L361.95,84.97 L362.00,85.21 L362.05,85.35 L362.10,85.43 L362.15,85.47 L362.20,85.49 L362.25,85.49 L362.30,85.50 L369.90,85.50 L369.95,85.50 L370.00,85.49 L370.05,85.48 L370.10,85.46 L370.15,85.41 L370.20,85.33 L370.25,85.19 L370.30,84.97 L370.35,84.65 L370.40,84.22 L370.45,83.70 L370.50,83.11 L370.55,82.53 L370.60,82.02 L370.65,81.68 L370.70,81.56 L370.75,81.68 L370.80,82.02 L370.85,82.53 L370.90,83.11 L370.95,83.70 L371.00,84.22 L371.05,84.65 L371.10,84.97 L371.15,85.19 L371.20,85.33 L371.25,85.41 L371.30,85.46 L371.35,85.48 L371.40,85.49 L371.45,85.50 L371.50,85.50 L390.50,85.50" fill="none" stroke="#b05050" stroke-width="0.85" stroke-linejoin="round"/><path d="M249.30,94.85 H250.50 V113.30 H390.50" fill="none" stroke="#666666" stroke-width="0.8"/><text x="248.50" y="97.35" font-size="5.1" font-weight="bold" fill="#111" text-anchor="end" textLength="7.7" lengthAdjust="spacingAndGlyphs" stroke="#111" stroke-width="0.25">100</text><path d="M258.90,112.50 L268.20,112.50 L268.50,95.85 L269.40,95.49 L269.70,112.50 L390.50,112.50" fill="none" stroke="#48a048" stroke-width="0.85" stroke-linejoin="round"/><path d="M249.30,122.00 H250.50 V140.80 H390.50" fill="none" stroke="#666666" stroke-width="0.8"/><text x="248.50" y="124.50" font-size="5.1" font-weight="bold" fill="#111" text-anchor="end" textLength="7.7" lengthAdjust="spacingAndGlyphs" stroke="#111" stroke-width="0.25">100</text><path d="M258.90,140.00 L258.50,140.00 L258.55,140.00 L258.60,139.99 L258.65,139.99 L258.70,139.97 L258.75,139.95 L258.80,139.90 L258.85,139.84 L258.90,139.73 L258.95,139.57 L259.00,139.35 L259.05,139.04 L259.10,138.66 L259.15,138.19 L259.20,137.65 L259.25,137.07 L259.30,136.49 L259.35,135.96 L259.40,135.54 L259.45,135.26 L259.50,135.17 L259.55,135.26 L259.60,135.54 L259.65,135.96 L259.70,136.49 L259.75,137.07 L259.80,137.65 L259.85,138.19 L259.90,138.66 L259.95,139.04 L260.00,139.35 L260.05,139.57 L260.10,139.73 L260.15,139.84 L260.20,139.90 L260.25,139.95 L260.30,139.97 L260.35,139.99 L260.40,139.98 L260.45,139.96 L260.50,139.92 L260.55,139.86 L260.60,139.76 L260.65,139.61 L260.70,139.42 L260.75,139.18 L260.80,138.91 L260.85,138.65 L260.90,138.42 L260.95,138.27 L261.00,138.21 L261.05,138.27 L261.10,138.42 L261.15,138.65 L261.20,138.91 L261.25,139.18 L261.30,139.42 L261.35,139.61 L261.40,139.76 L261.45,139.86 L261.50,139.92 L261.55,139.96 L261.60,139.98 L261.65,139.99 L261.70,140.00 L261.75,140.00 L261.80,140.00 L261.85,139.99 L261.90,139.98 L261.95,139.96 L262.00,139.92 L262.05,139.86 L262.10,139.76 L262.15,139.61 L262.20,139.42 L262.25,139.18 L262.30,138.91 L262.35,138.65 L262.40,138.42 L262.45,138.27 L262.50,138.21 L262.55,138.27 L262.60,138.42 L262.65,138.65 L262.70,138.91 L262.75,139.18 L262.80,139.42 L262.85,139.61 L262.90,139.76 L262.95,139.86 L263.00,139.92 L263.05,139.96 L263.10,139.98 L263.15,139.99 L263.20,140.00 L263.25,140.00 L263.30,140.00 L268.25,139.99 L268.30,139.98 L268.35,139.97 L268.40,139.95 L268.45,139.92 L268.50,139.86 L268.55,139.78 L268.60,139.66 L268.65,139.47 L268.70,139.21 L268.75,138.85 L268.80,138.36 L268.85,137.73 L268.90,136.91 L268.95,135.91 L269.00,134.72 L269.05,133.34 L269.10,131.80 L269.15,130.16 L269.20,128.47 L269.25,126.81 L269.30,125.28 L269.35,123.96 L269.40,122.95 L269.45,122.32 L269.50,122.10 L269.55,122.32 L269.60,122.95 L269.65,123.96 L269.70,125.28 L269.75,126.81 L269.80,128.47 L269.85,130.16 L269.90,131.80 L269.95,133.34 L270.00,134.72 L270.05,135.91 L270.10,136.28 L270.15,135.84 L270.20,135.44 L270.25,135.10 L270.30,134.84 L270.35,134.68 L270.40,134.63 L270.45,134.68 L270.50,134.84 L270.55,135.10 L270.60,135.44 L270.65,135.84 L270.70,136.28 L270.75,136.74 L270.80,137.21 L270.85,137.65 L270.90,138.06 L270.95,138.44 L271.00,138.76 L271.05,139.04 L271.10,139.27 L271.15,139.46 L271.20,139.61 L271.25,139.72 L271.30,139.80 L271.35,139.87 L271.40,139.91 L271.45,139.94 L271.50,139.96 L271.55,139.98 L271.60,139.98 L271.65,139.99 L271.70,139.99 L271.75,140.00 L276.75,140.00 L276.80,140.00 L276.85,139.99 L276.90,139.99 L276.95,139.98 L277.00,139.97 L277.05,139.95 L277.10,139.93 L277.15,139.89 L277.20,139.84 L277.25,139.76 L277.30,139.66 L277.35,139.53 L277.40,139.38 L277.45,139.19 L277.50,138.97 L277.55,138.73 L277.60,138.48 L277.65,138.23 L277.70,137.99 L277.75,137.79 L277.80,137.63 L277.85,137.53 L277.90,137.49 L277.95,137.53 L278.00,137.63 L278.05,137.79 L278.10,137.99 L278.15,138.23 L278.20,138.48 L278.25,138.73 L278.30,138.97 L278.35,139.19 L278.40,139.38 L278.45,139.53 L278.50,139.66 L278.55,139.76 L278.60,139.84 L278.65,139.89 L278.70,139.93 L278.75,139.95 L278.80,139.97 L278.85,139.98 L278.90,139.99 L278.95,139.99 L279.00,140.00 L279.05,140.00 L390.50,140.00" fill="none" stroke="#2f3a9c" stroke-width="0.85" stroke-linejoin="round"/><path d="M249.30,149.15 H250.50 V168.30 H390.50" fill="none" stroke="#666666" stroke-width="0.8"/><text x="248.50" y="151.65" font-size="5.1" font-weight="bold" fill="#111" text-anchor="end" textLength="7.7" lengthAdjust="spacingAndGlyphs" stroke="#111" stroke-width="0.25">100</text><path d="M258.90,167.50 L352.15,167.49 L352.20,167.48 L352.25,167.47 L352.30,167.45 L352.35,167.42 L352.40,167.37 L352.45,167.29 L352.50,167.17 L352.55,167.00 L352.60,166.74 L352.65,166.40 L352.70,165.93 L352.75,165.32 L352.80,164.54 L352.85,163.58 L352.90,162.43 L352.95,161.11 L353.00,159.63 L353.05,158.05 L353.10,156.43 L353.15,154.84 L353.20,153.36 L353.25,152.10 L353.30,151.13 L353.35,150.52 L353.40,150.32 L353.45,150.52 L353.50,151.13 L353.55,152.10 L353.60,153.36 L353.65,154.84 L353.70,156.43 L353.75,158.05 L353.80,159.63 L353.85,161.11 L353.90,162.43 L353.95,163.58 L354.00,164.54 L354.05,165.32 L354.10,165.93 L354.15,166.40 L354.20,166.74 L354.25,167.00 L354.30,167.17 L354.35,167.29 L354.40,167.37 L354.45,167.42 L354.50,167.45 L354.55,167.47 L354.60,167.48 L354.65,167.49 L390.50,167.50" fill="none" stroke="#98983a" stroke-width="0.85" stroke-linejoin="round"/><path d="M249.30,176.30 H250.50 V195.30 H390.50" fill="none" stroke="#666666" stroke-width="0.8"/><text x="248.50" y="178.80" font-size="5.1" font-weight="bold" fill="#111" text-anchor="end" textLength="7.7" lengthAdjust="spacingAndGlyphs" stroke="#111" stroke-width="0.25">100</text><path d="M258.90,194.50 L305.90,194.50 L305.95,194.49 L306.00,194.48 L306.05,194.44 L306.10,194.38 L306.15,194.25 L306.20,194.01 L306.25,193.62 L306.30,193.00 L306.35,192.10 L306.40,190.90 L306.45,189.42 L306.50,187.77 L306.55,186.12 L306.60,184.71 L306.65,183.74 L306.70,183.40 L306.75,183.74 L306.80,184.71 L306.85,186.12 L306.90,187.77 L306.95,189.42 L307.00,190.90 L307.05,192.10 L307.10,193.00 L307.15,193.62 L307.20,194.01 L307.25,194.25 L307.30,194.38 L307.35,194.44 L307.40,194.48 L307.45,194.49 L307.50,194.50 L346.70,194.50 L346.75,194.49 L346.80,194.48 L346.85,194.45 L346.90,194.39 L346.95,194.28 L347.00,194.08 L347.05,193.75 L347.10,193.22 L347.15,192.45 L347.20,191.42 L347.25,190.16 L347.30,188.75 L347.35,187.34 L347.40,186.13 L347.45,185.30 L347.50,185.01 L347.55,185.30 L347.60,186.13 L347.65,187.34 L347.70,188.75 L347.75,190.16 L347.80,191.42 L347.85,192.45 L347.90,193.22 L347.95,193.75 L348.00,194.08 L348.05,194.28 L348.10,194.39 L348.15,194.45 L348.20,194.48 L348.25,194.49 L348.30,194.50 L349.50,194.50 L349.55,194.49 L349.60,194.48 L349.65,194.46 L349.70,194.41 L349.75,194.32 L349.80,194.16 L349.85,193.89 L349.90,193.46 L349.95,192.84 L350.00,192.00 L350.05,190.98 L350.10,189.83 L350.15,188.69 L350.20,187.71 L350.25,187.04 L350.30,186.80 L350.35,187.04 L350.40,187.71 L350.45,188.69 L350.50,189.83 L350.55,190.98 L350.60,192.00 L350.65,192.84 L350.70,193.46 L350.75,193.89 L350.80,194.16 L350.85,194.32 L350.90,194.41 L350.95,194.46 L351.00,194.48 L351.05,194.49 L351.10,194.50 L357.90,194.49 L357.95,194.48 L358.00,194.46 L358.05,194.41 L358.10,194.30 L358.15,194.09 L358.20,193.71 L358.25,193.08 L358.30,192.08 L358.35,190.63 L358.40,188.69 L358.45,186.30 L358.50,183.64 L358.55,180.99 L358.60,178.70 L358.65,177.15 L358.70,176.60 L358.75,177.15 L358.80,178.70 L358.85,180.99 L358.90,183.64 L358.95,186.30 L359.00,188.69 L359.05,190.63 L359.10,192.08 L359.15,193.08 L359.20,193.71 L359.25,194.09 L359.30,194.30 L359.35,194.41 L359.40,194.46 L359.45,194.48 L359.50,194.49 L390.50,194.50" fill="none" stroke="#9a4a9a" stroke-width="0.85" stroke-linejoin="round"/><path d="M249.30,203.45 H250.50 V222.30 H390.50" fill="none" stroke="#666666" stroke-width="0.8"/><text x="248.50" y="205.95" font-size="5.1" font-weight="bold" fill="#111" text-anchor="end" textLength="7.7" lengthAdjust="spacingAndGlyphs" stroke="#111" stroke-width="0.25">100</text><path d="M258.90,221.50 L390.50,221.50" fill="none" stroke="#3e9a9a" stroke-width="0.85" stroke-linejoin="round"/><path d="M249.30,230.60 H250.50 V249.30 H390.50" fill="none" stroke="#666666" stroke-width="0.8"/><text x="248.50" y="233.10" font-size="5.1" font-weight="bold" fill="#111" text-anchor="end" textLength="7.7" lengthAdjust="spacingAndGlyphs" stroke="#111" stroke-width="0.25">100</text><path d="M258.90,248.50 L324.15,248.50 L324.20,248.50 L324.25,248.50 L324.30,248.49 L324.35,248.49 L324.40,248.49 L324.45,248.49 L324.50,248.48 L324.55,248.48 L324.60,248.47 L324.65,248.46 L324.70,248.45 L324.75,248.44 L324.80,248.42 L324.85,248.40 L324.90,248.37 L324.95,248.34 L325.00,248.30 L325.05,248.26 L325.10,248.21 L325.15,248.14 L325.20,248.07 L325.25,247.99 L325.30,247.89 L325.35,247.79 L325.40,247.67 L325.45,247.53 L325.50,247.38 L325.55,247.22 L325.60,247.05 L325.65,246.86 L325.70,246.66 L325.75,246.45 L325.80,246.23 L325.85,246.01 L325.90,245.79 L325.95,245.56 L326.00,245.34 L326.05,245.12 L326.10,244.92 L326.15,244.73 L326.20,244.55 L326.25,244.40 L326.30,244.27 L326.35,244.16 L326.40,244.09 L326.45,244.04 L326.50,244.03 L326.55,244.04 L326.60,244.09 L326.65,244.16 L326.70,244.27 L326.75,244.40 L326.80,244.55 L326.85,244.73 L326.90,244.92 L326.95,245.12 L327.00,245.34 L327.05,245.56 L327.10,245.79 L327.15,246.01 L327.20,246.13 L327.25,245.23 L327.30,244.13 L327.35,242.80 L327.40,241.29 L327.45,239.62 L327.50,237.86 L327.55,236.10 L327.60,234.45 L327.65,233.02 L327.70,231.91 L327.75,231.20 L327.80,230.96 L327.85,231.20 L327.90,231.91 L327.95,233.02 L328.00,234.45 L328.05,236.10 L328.10,237.86 L328.15,239.62 L328.20,241.29 L328.25,242.80 L328.30,244.13 L328.35,245.23 L328.40,246.13 L328.45,246.82 L328.50,247.35 L328.55,247.73 L328.60,248.00 L328.65,248.18 L328.70,248.31 L328.75,248.38 L328.80,248.43 L328.85,248.46 L328.90,248.48 L328.95,248.49 L390.50,248.50" fill="none" stroke="#5a5a5a" stroke-width="0.85" stroke-linejoin="round"/><path d="M253.32,248.50 v1.6 M255.91,248.50 v1.6 M258.50,248.50 v2.6 M261.09,248.50 v1.6 M263.68,248.50 v1.6 M266.27,248.50 v1.6 M268.86,248.50 v1.6 M271.45,248.50 v2.6 M274.04,248.50 v1.6 M276.63,248.50 v1.6 M279.22,248.50 v1.6 M281.81,248.50 v1.6 M284.40,248.50 v2.6 M286.99,248.50 v1.6 M289.58,248.50 v1.6 M292.17,248.50 v1.6 M294.76,248.50 v1.6 M297.35,248.50 v2.6 M299.94,248.50 v1.6 M302.53,248.50 v1.6 M305.12,248.50 v1.6 M307.71,248.50 v1.6 M310.30,248.50 v2.6 M312.89,248.50 v1.6 M315.48,248.50 v1.6 M318.07,248.50 v1.6 M320.66,248.50 v1.6 M323.25,248.50 v2.6 M325.84,248.50 v1.6 M328.43,248.50 v1.6 M331.02,248.50 v1.6 M333.61,248.50 v1.6 M336.20,248.50 v2.6 M338.79,248.50 v1.6 M341.38,248.50 v1.6 M343.97,248.50 v1.6 M346.56,248.50 v1.6 M349.15,248.50 v2.6 M351.74,248.50 v1.6 M354.33,248.50 v1.6 M356.92,248.50 v1.6 M359.51,248.50 v1.6 M362.10,248.50 v2.6 M364.69,248.50 v1.6 M367.28,248.50 v1.6 M369.87,248.50 v1.6 M372.46,248.50 v1.6 M375.05,248.50 v2.6 M377.64,248.50 v1.6 M380.23,248.50 v1.6 M382.82,248.50 v1.6" stroke="#333" stroke-width="0.8"/><text x="258.50" y="258.10" font-size="5.2" font-weight="bold" fill="#222" text-anchor="middle" textLength="6.6" lengthAdjust="spacingAndGlyphs" stroke="#222" stroke-width="0.2">3.5</text><text x="271.45" y="258.10" font-size="5.2" font-weight="bold" fill="#222" text-anchor="middle" textLength="6.6" lengthAdjust="spacingAndGlyphs" stroke="#222" stroke-width="0.2">4.0</text><text x="284.40" y="258.10" font-size="5.2" font-weight="bold" fill="#222" text-anchor="middle" textLength="6.6" lengthAdjust="spacingAndGlyphs" stroke="#222" stroke-width="0.2">4.5</text><text x="297.35" y="258.10" font-size="5.2" font-weight="bold" fill="#222" text-anchor="middle" textLength="6.6" lengthAdjust="spacingAndGlyphs" stroke="#222" stroke-width="0.2">5.0</text><text x="310.30" y="258.10" font-size="5.2" font-weight="bold" fill="#222" text-anchor="middle" textLength="6.6" lengthAdjust="spacingAndGlyphs" stroke="#222" stroke-width="0.2">5.5</text><text x="323.25" y="258.10" font-size="5.2" font-weight="bold" fill="#222" text-anchor="middle" textLength="6.6" lengthAdjust="spacingAndGlyphs" stroke="#222" stroke-width="0.2">6.0</text><text x="336.20" y="258.10" font-size="5.2" font-weight="bold" fill="#222" text-anchor="middle" textLength="6.6" lengthAdjust="spacingAndGlyphs" stroke="#222" stroke-width="0.2">6.5</text><text x="349.15" y="258.10" font-size="5.2" font-weight="bold" fill="#222" text-anchor="middle" textLength="6.6" lengthAdjust="spacingAndGlyphs" stroke="#222" stroke-width="0.2">7.0</text><text x="362.10" y="258.10" font-size="5.2" font-weight="bold" fill="#222" text-anchor="middle" textLength="6.6" lengthAdjust="spacingAndGlyphs" stroke="#222" stroke-width="0.2">7.5</text><text x="375.05" y="258.10" font-size="5.2" font-weight="bold" fill="#222" text-anchor="middle" textLength="6.6" lengthAdjust="spacingAndGlyphs" stroke="#222" stroke-width="0.2">8.0</text><text x="388.00" y="258.10" font-size="5.2" font-weight="bold" fill="#222" text-anchor="middle" textLength="6.6" lengthAdjust="spacingAndGlyphs" stroke="#222" stroke-width="0.2">8.5</text><text x="307.90" y="267.8" font-size="5.4" font-weight="bold" fill="#111" textLength="24" lengthAdjust="spacingAndGlyphs" stroke="#111" stroke-width="0.2">Time [min]</text><text class="lb" x="393.10" y="42.80" font-size="4.7" font-weight="bold"><tspan fill="#1a1a1a" stroke="#1a1a1a">Luspatercept/</tspan><tspan fill="#ed7d31" stroke="none">Ramatercept T</tspan><tspan fill="#ed7d31" stroke="none" font-size="3.4" dy="1.0">3</tspan><tspan dy="-1.0"></tspan></text><text class="lb" x="393.10" y="48.85" font-size="4.7" font-weight="bold" fill="#1a1a1a" stroke="#1a1a1a"><tspan font-style="italic">m/z</tspan> = 880.89</text><text class="lb" x="393.10" y="54.90" font-size="4.7" font-weight="bold" fill="#1a1a1a" stroke="#1a1a1a" transform="translate(393.10,0) scale(0.915,1) translate(-393.10,0)">NL: 1.19E6</text><text class="lb" x="393.10" y="69.95" font-size="4.7" font-weight="bold"><tspan fill="#1a1a1a" stroke="#1a1a1a">Elritercept T</tspan><tspan fill="#1a1a1a" stroke="#1a1a1a" font-size="3.4" dy="1.0">2</tspan><tspan dy="-1.0"></tspan></text><text class="lb" x="393.10" y="76.00" font-size="4.7" font-weight="bold" fill="#1a1a1a" stroke="#1a1a1a"><tspan font-style="italic">m/z</tspan> = 1094.98</text><text class="lb" x="393.10" y="82.05" font-size="4.7" font-weight="bold" fill="#1a1a1a" stroke="#1a1a1a" transform="translate(393.10,0) scale(0.915,1) translate(-393.10,0)">NL: 2.38E3</text><text class="lb" x="393.10" y="97.10" font-size="4.7" font-weight="bold"><tspan fill="#1a1a1a" stroke="#1a1a1a">Luspatercept/</tspan><tspan fill="#ed7d31" stroke="none">Ramatercept T</tspan><tspan fill="#ed7d31" stroke="none" font-size="3.4" dy="1.0">4</tspan><tspan dy="-1.0"></tspan></text><text class="lb" x="393.10" y="103.15" font-size="4.7" font-weight="bold" fill="#1a1a1a" stroke="#1a1a1a"><tspan font-style="italic">m/z</tspan> = 546.76</text><text class="lb" x="393.10" y="109.20" font-size="4.7" font-weight="bold" fill="#1a1a1a" stroke="#1a1a1a" transform="translate(393.10,0) scale(0.915,1) translate(-393.10,0)">NL: 3.81E6</text><text class="lb" x="393.10" y="124.25" font-size="4.7" font-weight="bold"><tspan fill="#1a1a1a" stroke="#1a1a1a">Elritercept T</tspan><tspan fill="#1a1a1a" stroke="#1a1a1a" font-size="3.4" dy="1.0">7</tspan><tspan dy="-1.0"></tspan></text><text class="lb" x="393.10" y="130.30" font-size="4.7" font-weight="bold" fill="#1a1a1a" stroke="#1a1a1a"><tspan font-style="italic">m/z</tspan> = 553.76</text><text class="lb" x="393.10" y="136.35" font-size="4.7" font-weight="bold" fill="#1a1a1a" stroke="#1a1a1a" transform="translate(393.10,0) scale(0.915,1) translate(-393.10,0)">NL: 2.89E3</text><text class="lb" x="393.10" y="151.40" font-size="4.7" font-weight="bold"><tspan fill="#1a1a1a" stroke="#1a1a1a">Elritercept T</tspan><tspan fill="#1a1a1a" stroke="#1a1a1a" font-size="3.4" dy="1.0">10</tspan><tspan dy="-1.0"></tspan><tspan fill="#1a1a1a" stroke="#1a1a1a">/</tspan><tspan fill="#ed7d31" stroke="none">Ramatercept T</tspan><tspan fill="#ed7d31" stroke="none" font-size="3.4" dy="1.0">9</tspan><tspan dy="-1.0"></tspan></text><text class="lb" x="393.10" y="157.45" font-size="4.7" font-weight="bold" fill="#1a1a1a" stroke="#1a1a1a"><tspan font-style="italic">m/z</tspan> = 810.82</text><text class="lb" x="393.10" y="163.50" font-size="4.7" font-weight="bold" fill="#1a1a1a" stroke="#1a1a1a" transform="translate(393.10,0) scale(0.915,1) translate(-393.10,0)">NL: 7.23E5</text><text class="lb" x="393.10" y="178.55" font-size="4.7" font-weight="bold"><tspan fill="#1a1a1a" stroke="#1a1a1a">Luspatercept T</tspan><tspan fill="#1a1a1a" stroke="#1a1a1a" font-size="3.4" dy="1.0">8</tspan><tspan dy="-1.0"></tspan></text><text class="lb" x="393.10" y="184.60" font-size="4.7" font-weight="bold" fill="#1a1a1a" stroke="#1a1a1a"><tspan font-style="italic">m/z</tspan> = 811.79</text><text class="lb" x="393.10" y="190.65" font-size="4.7" font-weight="bold" fill="#1a1a1a" stroke="#1a1a1a" transform="translate(393.10,0) scale(0.915,1) translate(-393.10,0)">NL: 7.58E2</text><text class="lb" x="393.10" y="205.70" font-size="4.7" font-weight="bold"><tspan fill="#1a1a1a" stroke="#1a1a1a">Elritercept T</tspan><tspan fill="#1a1a1a" stroke="#1a1a1a" font-size="3.4" dy="1.0">11</tspan><tspan dy="-1.0"></tspan></text><text class="lb" x="393.10" y="211.75" font-size="4.7" font-weight="bold" fill="#1a1a1a" stroke="#1a1a1a"><tspan font-style="italic">m/z</tspan> = 1587.09</text><text class="lb" x="393.10" y="217.80" font-size="4.7" font-weight="bold" fill="#1a1a1a" stroke="#1a1a1a" transform="translate(393.10,0) scale(0.915,1) translate(-393.10,0)">NL: 0</text><text class="lb" x="393.10" y="232.85" font-size="4.7" font-weight="bold"><tspan fill="#1a1a1a" stroke="#1a1a1a">Luspatercept/</tspan><tspan fill="#ed7d31" stroke="none">Ramatercept T</tspan><tspan fill="#ed7d31" stroke="none" font-size="3.4" dy="1.0">16</tspan><tspan dy="-1.0"></tspan></text><text class="lb" x="393.10" y="238.90" font-size="4.7" font-weight="bold" fill="#1a1a1a" stroke="#1a1a1a"><tspan font-style="italic">m/z</tspan> = 1601.62</text><text class="lb" x="393.10" y="244.95" font-size="4.7" font-weight="bold" fill="#1a1a1a" stroke="#1a1a1a" transform="translate(393.10,0) scale(0.915,1) translate(-393.10,0)">NL: 4.26E5</text><path d="M474.40,40.55 H475.60 V59.30 H615.60" fill="none" stroke="#666666" stroke-width="0.8"/><text x="473.60" y="43.05" font-size="5.1" font-weight="bold" fill="#111" text-anchor="end" textLength="7.7" lengthAdjust="spacingAndGlyphs" stroke="#111" stroke-width="0.25">100</text><path d="M484.00,58.50 L552.55,58.49 L552.60,58.48 L552.65,58.47 L552.70,58.45 L552.75,58.42 L552.80,58.37 L552.85,58.30 L552.90,58.20 L552.95,58.05 L553.00,57.84 L553.05,57.56 L553.10,57.19 L553.15,56.70 L553.20,56.08 L553.25,55.31 L553.30,54.38 L553.35,53.29 L553.40,52.05 L553.45,50.67 L553.50,49.18 L553.55,47.64 L553.60,46.10 L553.65,44.63 L553.70,43.30 L553.75,42.17 L553.80,41.32 L553.85,40.78 L553.90,40.60 L553.95,40.78 L554.00,41.32 L554.05,42.17 L554.10,43.30 L554.15,44.63 L554.20,46.10 L554.25,47.64 L554.30,49.18 L554.35,50.67 L554.40,52.05 L554.45,53.29 L554.50,54.38 L554.55,55.31 L554.60,56.08 L554.65,56.70 L554.70,57.19 L554.75,57.56 L554.80,57.84 L554.85,58.05 L554.90,58.20 L554.95,58.30 L555.00,58.37 L555.05,58.42 L555.10,58.45 L555.15,58.47 L555.20,58.48 L555.25,58.49 L615.60,58.50" fill="none" stroke="#3a3a3a" stroke-width="0.85" stroke-linejoin="round"/><path d="M474.40,67.70 H475.60 V86.30 H615.60" fill="none" stroke="#666666" stroke-width="0.8"/><text x="473.60" y="70.20" font-size="5.1" font-weight="bold" fill="#111" text-anchor="end" textLength="7.7" lengthAdjust="spacingAndGlyphs" stroke="#111" stroke-width="0.25">100</text><path d="M484.00,85.50 L615.60,85.50" fill="none" stroke="#b05050" stroke-width="0.85" stroke-linejoin="round"/><path d="M474.40,94.85 H475.60 V113.30 H615.60" fill="none" stroke="#666666" stroke-width="0.8"/><text x="473.60" y="97.35" font-size="5.1" font-weight="bold" fill="#111" text-anchor="end" textLength="7.7" lengthAdjust="spacingAndGlyphs" stroke="#111" stroke-width="0.25">100</text><path d="M484.00,112.50 L493.65,112.49 L493.70,112.48 L493.75,112.46 L493.80,112.43 L493.85,112.38 L493.90,112.30 L493.95,112.18 L494.00,111.99 L494.05,111.71 L494.10,111.32 L494.15,110.79 L494.20,110.08 L494.25,109.17 L494.30,108.04 L494.35,106.69 L494.40,105.14 L494.45,103.44 L494.50,101.64 L494.55,99.85 L494.60,98.17 L494.65,96.70 L494.70,95.57 L494.75,94.85 L494.80,94.60 L494.85,94.85 L494.90,95.57 L494.95,96.70 L495.00,98.17 L495.05,99.85 L495.10,101.64 L495.15,103.44 L495.20,105.14 L495.25,106.69 L495.30,108.04 L495.35,109.17 L495.40,110.08 L495.45,110.79 L495.50,111.32 L495.55,111.71 L495.60,111.99 L495.65,112.18 L495.70,112.30 L495.75,112.38 L495.80,112.43 L495.85,112.46 L495.90,112.48 L495.95,112.49 L615.60,112.50" fill="none" stroke="#48a048" stroke-width="0.85" stroke-linejoin="round"/><path d="M474.40,122.00 H475.60 V140.80 H615.60" fill="none" stroke="#666666" stroke-width="0.8"/><text x="473.60" y="124.50" font-size="5.1" font-weight="bold" fill="#111" text-anchor="end" textLength="7.7" lengthAdjust="spacingAndGlyphs" stroke="#111" stroke-width="0.25">100</text><path d="M484.10,124.61 L484.10,140.00 L493.70,139.99 L493.75,139.99 L493.80,139.99 L493.85,139.98 L493.90,139.97 L493.95,139.95 L494.00,139.93 L494.05,139.90 L494.10,139.86 L494.15,139.80 L494.20,139.72 L494.25,139.62 L494.30,139.49 L494.35,139.32 L494.40,139.10 L494.45,138.82 L494.50,138.48 L494.55,138.07 L494.60,137.58 L494.65,136.99 L494.70,136.31 L494.75,135.54 L494.80,134.66 L494.85,133.69 L494.90,132.64 L494.95,131.52 L495.00,130.34 L495.05,129.14 L495.10,127.94 L495.15,126.77 L495.20,125.67 L495.25,124.66 L495.30,123.78 L495.35,123.07 L495.40,122.54 L495.45,122.21 L495.50,122.10 L495.55,122.21 L495.60,122.54 L495.65,123.07 L495.70,123.78 L495.75,124.66 L495.80,125.67 L495.85,126.77 L495.90,127.94 L495.95,129.14 L496.00,130.34 L496.05,131.52 L496.10,132.64 L496.15,133.69 L496.20,134.66 L496.25,135.54 L496.30,136.31 L496.35,136.99 L496.40,137.58 L496.45,138.07 L496.50,138.48 L496.55,138.66 L496.60,138.37 L496.65,138.05 L496.70,137.71 L496.75,137.34 L496.80,136.96 L496.85,136.58 L496.90,136.22 L496.95,135.88 L497.00,135.58 L497.05,135.33 L497.10,135.14 L497.15,135.03 L497.20,134.99 L497.25,135.03 L497.30,135.14 L497.35,135.33 L497.40,135.58 L497.45,135.88 L497.50,136.22 L497.55,136.58 L497.60,136.96 L497.65,137.34 L497.70,137.71 L497.75,138.05 L497.80,138.37 L497.85,138.66 L497.90,138.92 L497.95,139.14 L498.00,139.32 L498.05,139.48 L498.10,139.60 L498.15,139.70 L498.20,139.78 L498.25,139.84 L498.30,139.89 L498.35,139.92 L498.40,139.94 L498.45,139.96 L498.50,139.97 L498.55,139.98 L498.60,139.99 L498.65,139.99 L498.70,140.00 L498.75,140.00 L498.80,140.00 L615.60,140.00" fill="none" stroke="#2f3a9c" stroke-width="0.85" stroke-linejoin="round"/><path d="M474.40,149.15 H475.60 V168.30 H615.60" fill="none" stroke="#666666" stroke-width="0.8"/><text x="473.60" y="151.65" font-size="5.1" font-weight="bold" fill="#111" text-anchor="end" textLength="7.7" lengthAdjust="spacingAndGlyphs" stroke="#111" stroke-width="0.25">100</text><path d="M484.00,167.50 L537.30,167.50 L537.35,167.50 L537.40,167.49 L537.45,167.48 L537.50,167.46 L537.55,167.42 L537.60,167.34 L537.65,167.22 L537.70,167.02 L537.75,166.73 L537.80,166.34 L537.85,165.86 L537.90,165.33 L537.95,164.80 L538.00,164.34 L538.05,164.03 L538.10,163.92 L538.15,164.03 L538.20,164.34 L538.25,164.80 L538.30,165.33 L538.35,165.86 L538.40,166.34 L538.45,166.73 L538.50,167.02 L538.55,167.22 L538.60,167.34 L538.65,167.42 L538.70,167.46 L538.75,167.48 L538.80,167.49 L538.85,167.50 L538.90,167.50 L540.60,167.50 L540.65,167.49 L540.70,167.49 L540.75,167.47 L540.80,167.43 L540.85,167.37 L540.90,167.24 L540.95,167.03 L541.00,166.70 L541.05,166.22 L541.10,165.58 L541.15,164.80 L541.20,163.92 L541.25,163.04 L541.30,162.29 L541.35,161.77 L541.40,161.59 L541.45,161.77 L541.50,162.29 L541.55,163.04 L541.60,163.92 L541.65,164.80 L541.70,165.58 L541.75,166.22 L541.80,166.70 L541.85,167.03 L541.90,167.24 L541.95,167.37 L542.00,167.43 L542.05,167.47 L542.10,167.49 L542.15,167.48 L542.20,167.45 L542.25,167.40 L542.30,167.30 L542.35,167.14 L542.40,166.89 L542.45,166.53 L542.50,166.05 L542.55,165.45 L542.60,164.79 L542.65,164.12 L542.70,163.55 L542.75,163.16 L542.80,163.03 L542.85,163.16 L542.90,163.55 L542.95,164.12 L543.00,164.79 L543.05,165.45 L543.10,166.05 L543.15,166.53 L543.20,166.89 L543.25,167.14 L543.30,167.30 L543.35,167.40 L543.40,167.45 L543.45,167.48 L543.50,167.49 L543.55,167.50 L543.60,167.50 L543.70,167.50 L543.75,167.50 L543.80,167.49 L543.85,167.48 L543.90,167.45 L543.95,167.41 L544.00,167.32 L544.05,167.17 L544.10,166.94 L544.15,166.61 L544.20,166.16 L544.25,165.62 L544.30,165.00 L544.35,164.39 L544.40,163.87 L544.45,163.51 L544.50,163.38 L544.55,163.51 L544.60,163.87 L544.65,164.39 L544.70,165.00 L544.75,165.62 L544.80,166.16 L544.85,166.61 L544.90,166.94 L544.95,167.17 L545.00,167.32 L545.05,167.41 L545.10,167.45 L545.15,167.48 L545.20,167.49 L545.25,167.50 L545.30,167.50 L547.60,167.50 L547.65,167.50 L547.70,167.49 L547.75,167.48 L547.80,167.46 L547.85,167.42 L547.90,167.34 L547.95,167.22 L548.00,167.02 L548.05,166.73 L548.10,166.34 L548.15,165.86 L548.20,165.33 L548.25,164.80 L548.30,164.34 L548.35,164.03 L548.40,163.92 L548.45,164.03 L548.50,164.34 L548.55,164.80 L548.60,165.33 L548.65,165.86 L548.70,166.34 L548.75,166.73 L548.80,167.02 L548.85,167.22 L548.90,167.34 L548.95,167.42 L549.00,167.46 L549.05,167.48 L549.10,167.49 L549.15,167.50 L549.20,167.50 L582.40,167.50 L582.45,167.50 L582.50,167.49 L582.55,167.48 L582.60,167.46 L582.65,167.43 L582.70,167.36 L582.75,167.24 L582.80,167.06 L582.85,166.80 L582.90,166.45 L582.95,166.02 L583.00,165.55 L583.05,165.07 L583.10,164.66 L583.15,164.38 L583.20,164.28 L583.25,164.38 L583.30,164.66 L583.35,165.07 L583.40,165.55 L583.45,166.02 L583.50,166.45 L583.55,166.80 L583.60,167.06 L583.65,167.24 L583.70,167.36 L583.75,167.43 L583.80,167.46 L583.85,167.48 L583.90,167.49 L583.95,167.50 L584.00,167.50 L589.40,167.50 L589.45,167.50 L589.50,167.49 L589.55,167.48 L589.60,167.45 L589.65,167.40 L589.70,167.30 L589.75,167.14 L589.80,166.89 L589.85,166.53 L589.90,166.05 L589.95,165.45 L590.00,164.79 L590.05,164.12 L590.10,163.55 L590.15,163.16 L590.20,163.03 L590.25,163.16 L590.30,163.55 L590.35,164.12 L590.40,164.79 L590.45,165.45 L590.50,166.05 L590.55,166.53 L590.60,166.89 L590.65,167.14 L590.70,167.30 L590.75,167.40 L590.80,167.45 L590.85,167.48 L590.90,167.49 L590.95,167.50 L591.00,167.50 L591.40,167.49 L591.45,167.48 L591.50,167.46 L591.55,167.41 L591.60,167.29 L591.65,167.08 L591.70,166.68 L591.75,166.02 L591.80,164.98 L591.85,163.47 L591.90,161.46 L591.95,158.98 L592.00,156.21 L592.05,153.45 L592.10,151.07 L592.15,149.46 L592.20,148.88 L592.25,149.46 L592.30,151.07 L592.35,153.45 L592.40,156.21 L592.45,158.98 L592.50,161.46 L592.55,163.47 L592.60,164.98 L592.65,166.02 L592.70,166.68 L592.75,167.08 L592.80,167.29 L592.85,167.41 L592.90,167.46 L592.95,167.48 L593.00,167.49 L615.60,167.50" fill="none" stroke="#98983a" stroke-width="0.85" stroke-linejoin="round"/><path d="M474.40,176.30 H475.60 V195.30 H615.60" fill="none" stroke="#666666" stroke-width="0.8"/><text x="473.60" y="178.80" font-size="5.1" font-weight="bold" fill="#111" text-anchor="end" textLength="7.7" lengthAdjust="spacingAndGlyphs" stroke="#111" stroke-width="0.25">100</text><path d="M484.00,194.50 L530.80,194.49 L530.85,194.49 L530.90,194.48 L530.95,194.47 L531.00,194.45 L531.05,194.42 L531.10,194.38 L531.15,194.32 L531.20,194.23 L531.25,194.11 L531.30,193.94 L531.35,193.71 L531.40,193.42 L531.45,193.03 L531.50,192.55 L531.55,191.95 L531.60,191.22 L531.65,190.36 L531.70,189.35 L531.75,188.22 L531.80,186.97 L531.85,185.62 L531.90,184.21 L531.95,182.79 L532.00,181.39 L532.05,180.08 L532.10,178.92 L532.15,177.94 L532.20,177.21 L532.25,176.75 L532.30,176.60 L532.35,176.75 L532.40,177.21 L532.45,177.94 L532.50,178.92 L532.55,180.08 L532.60,181.39 L532.65,182.79 L532.70,184.21 L532.75,185.62 L532.80,186.97 L532.85,188.22 L532.90,189.35 L532.95,190.36 L533.00,191.22 L533.05,191.95 L533.10,192.55 L533.15,193.03 L533.20,193.42 L533.25,193.71 L533.30,193.94 L533.35,194.11 L533.40,194.23 L533.45,194.32 L533.50,194.38 L533.55,194.42 L533.60,194.45 L533.65,194.47 L533.70,194.48 L533.75,194.49 L533.80,194.49 L615.60,194.50" fill="none" stroke="#9a4a9a" stroke-width="0.85" stroke-linejoin="round"/><path d="M474.40,203.45 H475.60 V222.30 H615.60" fill="none" stroke="#666666" stroke-width="0.8"/><text x="473.60" y="205.95" font-size="5.1" font-weight="bold" fill="#111" text-anchor="end" textLength="7.7" lengthAdjust="spacingAndGlyphs" stroke="#111" stroke-width="0.25">100</text><path d="M484.00,221.50 L615.60,221.50" fill="none" stroke="#3e9a9a" stroke-width="0.85" stroke-linejoin="round"/><path d="M474.40,230.60 H475.60 V249.30 H615.60" fill="none" stroke="#666666" stroke-width="0.8"/><text x="473.60" y="233.10" font-size="5.1" font-weight="bold" fill="#111" text-anchor="end" textLength="7.7" lengthAdjust="spacingAndGlyphs" stroke="#111" stroke-width="0.25">100</text><path d="M484.00,248.50 L549.45,248.50 L549.50,248.50 L549.55,248.50 L549.60,248.49 L549.65,248.49 L549.70,248.49 L549.75,248.49 L549.80,248.48 L549.85,248.48 L549.90,248.47 L549.95,248.46 L550.00,248.45 L550.05,248.44 L550.10,248.42 L550.15,248.40 L550.20,248.37 L550.25,248.34 L550.30,248.30 L550.35,248.26 L550.40,248.21 L550.45,248.14 L550.50,248.07 L550.55,247.99 L550.60,247.89 L550.65,247.79 L550.70,247.67 L550.75,247.53 L550.80,247.38 L550.85,247.22 L550.90,247.05 L550.95,246.86 L551.00,246.66 L551.05,246.45 L551.10,246.23 L551.15,246.01 L551.20,245.79 L551.25,245.56 L551.30,245.34 L551.35,245.12 L551.40,244.92 L551.45,244.73 L551.50,244.55 L551.55,244.40 L551.60,244.27 L551.65,244.16 L551.70,244.09 L551.75,244.04 L551.80,244.03 L551.85,244.04 L551.90,244.09 L551.95,244.16 L552.00,244.27 L552.05,244.40 L552.10,244.55 L552.15,244.73 L552.20,244.92 L552.25,245.12 L552.30,245.34 L552.35,245.56 L552.40,245.79 L552.45,246.01 L552.50,246.08 L552.55,245.17 L552.60,244.04 L552.65,242.69 L552.70,241.14 L552.75,239.44 L552.80,237.64 L552.85,235.85 L552.90,234.17 L552.95,232.70 L553.00,231.57 L553.05,230.85 L553.10,230.60 L553.15,230.85 L553.20,231.57 L553.25,232.70 L553.30,234.17 L553.35,235.85 L553.40,237.64 L553.45,239.44 L553.50,241.14 L553.55,242.69 L553.60,244.04 L553.65,245.17 L553.70,246.08 L553.75,246.79 L553.80,247.32 L553.85,247.71 L553.90,247.99 L553.95,248.18 L554.00,248.30 L554.05,248.38 L554.10,248.43 L554.15,248.46 L554.20,248.48 L554.25,248.49 L615.60,248.50" fill="none" stroke="#5a5a5a" stroke-width="0.85" stroke-linejoin="round"/><path d="M478.42,248.50 v1.6 M481.01,248.50 v1.6 M483.60,248.50 v2.6 M486.19,248.50 v1.6 M488.78,248.50 v1.6 M491.37,248.50 v1.6 M493.96,248.50 v1.6 M496.55,248.50 v2.6 M499.14,248.50 v1.6 M501.73,248.50 v1.6 M504.32,248.50 v1.6 M506.91,248.50 v1.6 M509.50,248.50 v2.6 M512.09,248.50 v1.6 M514.68,248.50 v1.6 M517.27,248.50 v1.6 M519.86,248.50 v1.6 M522.45,248.50 v2.6 M525.04,248.50 v1.6 M527.63,248.50 v1.6 M530.22,248.50 v1.6 M532.81,248.50 v1.6 M535.40,248.50 v2.6 M537.99,248.50 v1.6 M540.58,248.50 v1.6 M543.17,248.50 v1.6 M545.76,248.50 v1.6 M548.35,248.50 v2.6 M550.94,248.50 v1.6 M553.53,248.50 v1.6 M556.12,248.50 v1.6 M558.71,248.50 v1.6 M561.30,248.50 v2.6 M563.89,248.50 v1.6 M566.48,248.50 v1.6 M569.07,248.50 v1.6 M571.66,248.50 v1.6 M574.25,248.50 v2.6 M576.84,248.50 v1.6 M579.43,248.50 v1.6 M582.02,248.50 v1.6 M584.61,248.50 v1.6 M587.20,248.50 v2.6 M589.79,248.50 v1.6 M592.38,248.50 v1.6 M594.97,248.50 v1.6 M597.56,248.50 v1.6 M600.15,248.50 v2.6 M602.74,248.50 v1.6 M605.33,248.50 v1.6 M607.92,248.50 v1.6" stroke="#333" stroke-width="0.8"/><text x="483.60" y="258.10" font-size="5.2" font-weight="bold" fill="#222" text-anchor="middle" textLength="6.6" lengthAdjust="spacingAndGlyphs" stroke="#222" stroke-width="0.2">3.5</text><text x="496.55" y="258.10" font-size="5.2" font-weight="bold" fill="#222" text-anchor="middle" textLength="6.6" lengthAdjust="spacingAndGlyphs" stroke="#222" stroke-width="0.2">4.0</text><text x="509.50" y="258.10" font-size="5.2" font-weight="bold" fill="#222" text-anchor="middle" textLength="6.6" lengthAdjust="spacingAndGlyphs" stroke="#222" stroke-width="0.2">4.5</text><text x="522.45" y="258.10" font-size="5.2" font-weight="bold" fill="#222" text-anchor="middle" textLength="6.6" lengthAdjust="spacingAndGlyphs" stroke="#222" stroke-width="0.2">5.0</text><text x="535.40" y="258.10" font-size="5.2" font-weight="bold" fill="#222" text-anchor="middle" textLength="6.6" lengthAdjust="spacingAndGlyphs" stroke="#222" stroke-width="0.2">5.5</text><text x="548.35" y="258.10" font-size="5.2" font-weight="bold" fill="#222" text-anchor="middle" textLength="6.6" lengthAdjust="spacingAndGlyphs" stroke="#222" stroke-width="0.2">6.0</text><text x="561.30" y="258.10" font-size="5.2" font-weight="bold" fill="#222" text-anchor="middle" textLength="6.6" lengthAdjust="spacingAndGlyphs" stroke="#222" stroke-width="0.2">6.5</text><text x="574.25" y="258.10" font-size="5.2" font-weight="bold" fill="#222" text-anchor="middle" textLength="6.6" lengthAdjust="spacingAndGlyphs" stroke="#222" stroke-width="0.2">7.0</text><text x="587.20" y="258.10" font-size="5.2" font-weight="bold" fill="#222" text-anchor="middle" textLength="6.6" lengthAdjust="spacingAndGlyphs" stroke="#222" stroke-width="0.2">7.5</text><text x="600.15" y="258.10" font-size="5.2" font-weight="bold" fill="#222" text-anchor="middle" textLength="6.6" lengthAdjust="spacingAndGlyphs" stroke="#222" stroke-width="0.2">8.0</text><text x="613.10" y="258.10" font-size="5.2" font-weight="bold" fill="#222" text-anchor="middle" textLength="6.6" lengthAdjust="spacingAndGlyphs" stroke="#222" stroke-width="0.2">8.5</text><text x="533.00" y="267.8" font-size="5.4" font-weight="bold" fill="#111" textLength="24" lengthAdjust="spacingAndGlyphs" stroke="#111" stroke-width="0.2">Time [min]</text><text class="lb" x="618.20" y="42.80" font-size="4.7" font-weight="bold"><tspan fill="#4472c4" stroke="none">Luspatercept</tspan><tspan fill="#1a1a1a" stroke="#1a1a1a">/Ramatercept </tspan><tspan fill="#4472c4" stroke="none">T</tspan><tspan fill="#4472c4" stroke="none" font-size="3.4" dy="1.0">3</tspan><tspan dy="-1.0"></tspan></text><text class="lb" x="618.20" y="48.85" font-size="4.7" font-weight="bold" fill="#1a1a1a" stroke="#1a1a1a"><tspan font-style="italic">m/z</tspan> = 880.89</text><text class="lb" x="618.20" y="54.90" font-size="4.7" font-weight="bold" fill="#1a1a1a" stroke="#1a1a1a" transform="translate(618.20,0) scale(0.915,1) translate(-618.20,0)">NL: 9.56E5</text><text class="lb" x="618.20" y="69.95" font-size="4.7" font-weight="bold"><tspan fill="#1a1a1a" stroke="#1a1a1a">Elritercept T</tspan><tspan fill="#1a1a1a" stroke="#1a1a1a" font-size="3.4" dy="1.0">2</tspan><tspan dy="-1.0"></tspan></text><text class="lb" x="618.20" y="76.00" font-size="4.7" font-weight="bold" fill="#1a1a1a" stroke="#1a1a1a"><tspan font-style="italic">m/z</tspan> = 1094.98</text><text class="lb" x="618.20" y="82.05" font-size="4.7" font-weight="bold" fill="#1a1a1a" stroke="#1a1a1a" transform="translate(618.20,0) scale(0.915,1) translate(-618.20,0)">NL: 2.38E3</text><text class="lb" x="618.20" y="97.10" font-size="4.7" font-weight="bold"><tspan fill="#4472c4" stroke="none">Luspatercept</tspan><tspan fill="#1a1a1a" stroke="#1a1a1a">/Ramatercept </tspan><tspan fill="#4472c4" stroke="none">T</tspan><tspan fill="#4472c4" stroke="none" font-size="3.4" dy="1.0">4</tspan><tspan dy="-1.0"></tspan></text><text class="lb" x="618.20" y="103.15" font-size="4.7" font-weight="bold" fill="#1a1a1a" stroke="#1a1a1a"><tspan font-style="italic">m/z</tspan> = 546.76</text><text class="lb" x="618.20" y="109.20" font-size="4.7" font-weight="bold" fill="#1a1a1a" stroke="#1a1a1a" transform="translate(618.20,0) scale(0.915,1) translate(-618.20,0)">NL: 2.84E6</text><text class="lb" x="618.20" y="124.25" font-size="4.7" font-weight="bold"><tspan fill="#1a1a1a" stroke="#1a1a1a">Elritercept T</tspan><tspan fill="#1a1a1a" stroke="#1a1a1a" font-size="3.4" dy="1.0">7</tspan><tspan dy="-1.0"></tspan></text><text class="lb" x="618.20" y="130.30" font-size="4.7" font-weight="bold" fill="#1a1a1a" stroke="#1a1a1a"><tspan font-style="italic">m/z</tspan> = 553.76</text><text class="lb" x="618.20" y="136.35" font-size="4.7" font-weight="bold" fill="#1a1a1a" stroke="#1a1a1a" transform="translate(618.20,0) scale(0.915,1) translate(-618.20,0)">NL: 1.34E3</text><text class="lb" x="618.20" y="151.40" font-size="4.7" font-weight="bold"><tspan fill="#1a1a1a" stroke="#1a1a1a">Elritercept T</tspan><tspan fill="#1a1a1a" stroke="#1a1a1a" font-size="3.4" dy="1.0">10</tspan><tspan dy="-1.0"></tspan><tspan fill="#1a1a1a" stroke="#1a1a1a">/Ramatercept T</tspan><tspan fill="#1a1a1a" stroke="#1a1a1a" font-size="3.4" dy="1.0">9</tspan><tspan dy="-1.0"></tspan></text><text class="lb" x="618.20" y="157.45" font-size="4.7" font-weight="bold" fill="#1a1a1a" stroke="#1a1a1a"><tspan font-style="italic">m/z</tspan> = 810.82</text><text class="lb" x="618.20" y="163.50" font-size="4.7" font-weight="bold" fill="#1a1a1a" stroke="#1a1a1a" transform="translate(618.20,0) scale(0.915,1) translate(-618.20,0)">NL: 2.59E3</text><text class="lb" x="618.20" y="178.55" font-size="4.7" font-weight="bold"><tspan fill="#4472c4" stroke="none">Luspatercept T</tspan><tspan fill="#4472c4" stroke="none" font-size="3.4" dy="1.0">8</tspan><tspan dy="-1.0"></tspan></text><text class="lb" x="618.20" y="184.60" font-size="4.7" font-weight="bold" fill="#1a1a1a" stroke="#1a1a1a"><tspan font-style="italic">m/z</tspan> = 811.79</text><text class="lb" x="618.20" y="190.65" font-size="4.7" font-weight="bold" fill="#1a1a1a" stroke="#1a1a1a" transform="translate(618.20,0) scale(0.915,1) translate(-618.20,0)">NL: 5.82E5</text><text class="lb" x="618.20" y="205.70" font-size="4.7" font-weight="bold"><tspan fill="#1a1a1a" stroke="#1a1a1a">Elritercept T</tspan><tspan fill="#1a1a1a" stroke="#1a1a1a" font-size="3.4" dy="1.0">11</tspan><tspan dy="-1.0"></tspan></text><text class="lb" x="618.20" y="211.75" font-size="4.7" font-weight="bold" fill="#1a1a1a" stroke="#1a1a1a"><tspan font-style="italic">m/z</tspan> = 1587.09</text><text class="lb" x="618.20" y="217.80" font-size="4.7" font-weight="bold" fill="#1a1a1a" stroke="#1a1a1a" transform="translate(618.20,0) scale(0.915,1) translate(-618.20,0)">NL: 0</text><text class="lb" x="618.20" y="232.85" font-size="4.7" font-weight="bold"><tspan fill="#4472c4" stroke="none">Luspatercept</tspan><tspan fill="#1a1a1a" stroke="#1a1a1a">/Ramatercept </tspan><tspan fill="#4472c4" stroke="none">T</tspan><tspan fill="#4472c4" stroke="none" font-size="3.4" dy="1.0">16</tspan><tspan dy="-1.0"></tspan></text><text class="lb" x="618.20" y="238.90" font-size="4.7" font-weight="bold" fill="#1a1a1a" stroke="#1a1a1a"><tspan font-style="italic">m/z</tspan> = 1601.62</text><text class="lb" x="618.20" y="244.95" font-size="4.7" font-weight="bold" fill="#1a1a1a" stroke="#1a1a1a" transform="translate(618.20,0) scale(0.915,1) translate(-618.20,0)">NL: 3.34E5</text><text x="0" y="0" font-size="5.8" font-weight="bold" fill="#111" text-anchor="middle" textLength="52" lengthAdjust="spacingAndGlyphs" stroke="#111" stroke-width="0.2" transform="translate(4.8,142.6) rotate(-90)">Relative Abundance</text></svg>
</body></html>
